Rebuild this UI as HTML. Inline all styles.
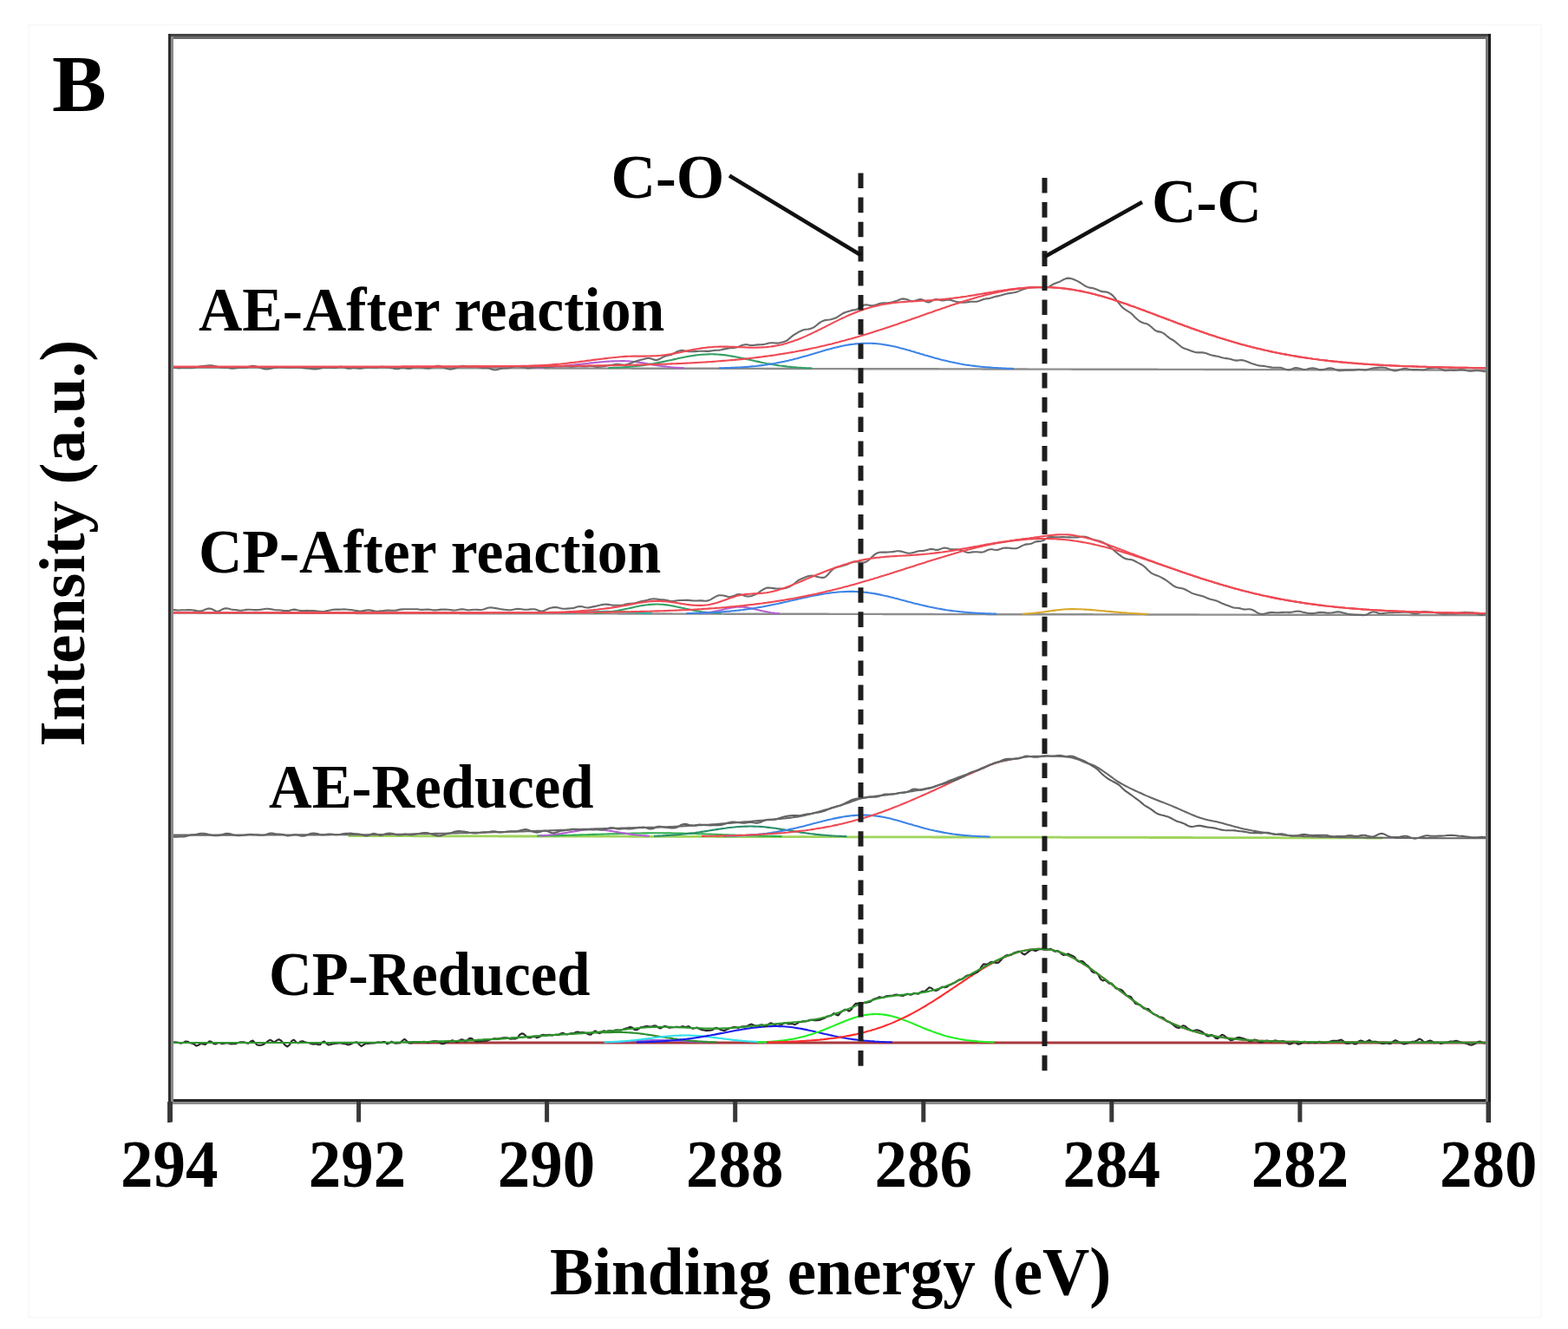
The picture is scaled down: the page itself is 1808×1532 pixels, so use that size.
<!DOCTYPE html>
<html><head><meta charset="utf-8"><title>XPS C1s spectra</title>
<style>html,body{margin:0;padding:0;background:#fff;} svg{display:block;}</style>
</head><body>
<svg width="1808" height="1532" viewBox="0 0 1808 1532">
<rect x="0" y="0" width="1808" height="1532" fill="#ffffff"/>
<rect x="33" y="28.5" width="1744" height="1490" fill="none" stroke="#f9f9f9" stroke-width="2"/>
<g fill="none" stroke-linejoin="round">
<polyline points="199,423.6 201.5,423.6 204,423.6 206.5,423.6 209,423.6 211.5,423.6 214,423.6 216.5,423.6 219,423.6 221.5,423.6 224,423.7 226.5,423.7 229,423.7 231.5,423.7 234,423.7 236.5,423.7 239,423.7 241.5,423.7 244,423.7 246.5,423.7 249,423.7 251.5,423.7 254,423.7 256.5,423.7 259,423.7 261.5,423.7 264,423.7 266.5,423.7 269,423.7 271.5,423.7 274,423.8 276.5,423.8 279,423.8 281.5,423.8 284,423.8 286.5,423.8 289,423.8 291.5,423.8 294,423.8 296.5,423.8 299,423.8 301.5,423.8 304,423.8 306.5,423.8 309,423.8 311.5,423.8 314,423.8 316.5,423.8 319,423.8 321.5,423.8 324,423.9 326.5,423.9 329,423.9 331.5,423.9 334,423.9 336.5,423.9 339,423.9 341.5,423.9 344,423.9 346.5,423.9 349,423.9 351.5,423.9 354,423.9 356.5,423.9 359,423.9 361.5,423.9 364,423.9 366.5,423.9 369,423.9 371.5,423.9 374,423.9 376.5,424 379,424 381.5,424 384,424 386.5,424 389,424 391.5,424 394,424 396.5,424 399,424 401.5,424 404,424 406.5,424 409,424 411.5,424 414,424 416.5,424 419,424 421.5,424 424,424 426.5,424.1 429,424.1 431.5,424.1 434,424.1 436.5,424.1 439,424.1 441.5,424.1 444,424.1 446.5,424.1 449,424.1 451.5,424.1 454,424.1 456.5,424.1 459,424.1 461.5,424.1 464,424.1 466.5,424.1 469,424.1 471.5,424.1 474,424.1 476.5,424.2 479,424.2 481.5,424.2 484,424.2 486.5,424.2 489,424.2 491.5,424.2 494,424.2 496.5,424.2 499,424.2 501.5,424.2 504,424.2 506.5,424.2 509,424.2 511.5,424.2 514,424.2 516.5,424.2 519,424.2 521.5,424.2 524,424.2 526.5,424.3 529,424.3 531.5,424.3 534,424.3 536.5,424.3 539,424.3 541.5,424.3 544,424.3 546.5,424.3 549,424.3 551.5,424.3 554,424.3 556.5,424.3 559,424.3 561.5,424.3 564,424.3 566.5,424.3 569,424.3 571.5,424.3 574,424.3 576.5,424.3 579,424.4 581.5,424.4 584,424.4 586.5,424.4 589,424.4 591.5,424.4 594,424.4 596.5,424.4 599,424.4 601.5,424.4 604,424.4 606.5,424.4 609,424.4 611.5,424.4 614,424.4 616.5,424.4 619,424.4 621.5,424.4 624,424.4 626.5,424.4 629,424.5 631.5,424.5 634,424.5 636.5,424.5 639,424.5 641.5,424.5 644,424.5 646.5,424.5 649,424.5 651.5,424.5 654,424.5 656.5,424.5 659,424.5 661.5,424.5 664,424.5 666.5,424.5 669,424.5 671.5,424.5 674,424.5 676.5,424.5 679,424.6 681.5,424.6 684,424.6 686.5,424.6 689,424.6 691.5,424.6 694,424.6 696.5,424.6 699,424.6 701.5,424.6 704,424.6 706.5,424.6 709,424.6 711.5,424.6 714,424.6 716.5,424.6 719,424.6 721.5,424.6 724,424.6 726.5,424.6 729,424.7 731.5,424.7 734,424.7 736.5,424.7 739,424.7 741.5,424.7 744,424.7 746.5,424.7 749,424.7 751.5,424.7 754,424.7 756.5,424.7 759,424.7 761.5,424.7 764,424.7 766.5,424.7 769,424.7 771.5,424.7 774,424.7 776.5,424.7 779,424.7 781.5,424.8 784,424.8 786.5,424.8 789,424.8 791.5,424.8 794,424.8 796.5,424.8 799,424.8 801.5,424.8 804,424.8 806.5,424.8 809,424.8 811.5,424.8 814,424.8 816.5,424.8 819,424.8 821.5,424.8 824,424.8 826.5,424.8 829,424.8 831.5,424.9 834,424.9 836.5,424.9 839,424.9 841.5,424.9 844,424.9 846.5,424.9 849,424.9 851.5,424.9 854,424.9 856.5,424.9 859,424.9 861.5,424.9 864,424.9 866.5,424.9 869,424.9 871.5,424.9 874,424.9 876.5,424.9 879,424.9 881.5,425 884,425 886.5,425 889,425 891.5,425 894,425 896.5,425 899,425 901.5,425 904,425 906.5,425 909,425 911.5,425 914,425 916.5,425 919,425 921.5,425 924,425 926.5,425 929,425 931.5,425.1 934,425.1 936.5,425.1 939,425.1 941.5,425.1 944,425.1 946.5,425.1 949,425.1 951.5,425.1 954,425.1 956.5,425.1 959,425.1 961.5,425.1 964,425.1 966.5,425.1 969,425.1 971.5,425.1 974,425.1 976.5,425.1 979,425.1 981.5,425.1 984,425.2 986.5,425.2 989,425.2 991.5,425.2 994,425.2 996.5,425.2 999,425.2 1001.5,425.2 1004,425.2 1006.5,425.2 1009,425.2 1011.5,425.2 1014,425.2 1016.5,425.2 1019,425.2 1021.5,425.2 1024,425.2 1026.5,425.2 1029,425.2 1031.5,425.2 1034,425.3 1036.5,425.3 1039,425.3 1041.5,425.3 1044,425.3 1046.5,425.3 1049,425.3 1051.5,425.3 1054,425.3 1056.5,425.3 1059,425.3 1061.5,425.3 1064,425.3 1066.5,425.3 1069,425.3 1071.5,425.3 1074,425.3 1076.5,425.3 1079,425.3 1081.5,425.3 1084,425.4 1086.5,425.4 1089,425.4 1091.5,425.4 1094,425.4 1096.5,425.4 1099,425.4 1101.5,425.4 1104,425.4 1106.5,425.4 1109,425.4 1111.5,425.4 1114,425.4 1116.5,425.4 1119,425.4 1121.5,425.4 1124,425.4 1126.5,425.4 1129,425.4 1131.5,425.4 1134,425.5 1136.5,425.5 1139,425.5 1141.5,425.5 1144,425.5 1146.5,425.5 1149,425.5 1151.5,425.5 1154,425.5 1156.5,425.5 1159,425.5 1161.5,425.5 1164,425.5 1166.5,425.5 1169,425.5 1171.5,425.5 1174,425.5 1176.5,425.5 1179,425.5 1181.5,425.5 1184,425.5 1186.5,425.6 1189,425.6 1191.5,425.6 1194,425.6 1196.5,425.6 1199,425.6 1201.5,425.6 1204,425.6 1206.5,425.6 1209,425.6 1211.5,425.6 1214,425.6 1216.5,425.6 1219,425.6 1221.5,425.6 1224,425.6 1226.5,425.6 1229,425.6 1231.5,425.6 1234,425.6 1236.5,425.7 1239,425.7 1241.5,425.7 1244,425.7 1246.5,425.7 1249,425.7 1251.5,425.7 1254,425.7 1256.5,425.7 1259,425.7 1261.5,425.7 1264,425.7 1266.5,425.7 1269,425.7 1271.5,425.7 1274,425.7 1276.5,425.7 1279,425.7 1281.5,425.7 1284,425.7 1286.5,425.8 1289,425.8 1291.5,425.8 1294,425.8 1296.5,425.8 1299,425.8 1301.5,425.8 1304,425.8 1306.5,425.8 1309,425.8 1311.5,425.8 1314,425.8 1316.5,425.8 1319,425.8 1321.5,425.8 1324,425.8 1326.5,425.8 1329,425.8 1331.5,425.8 1334,425.8 1336.5,425.9 1339,425.9 1341.5,425.9 1344,425.9 1346.5,425.9 1349,425.9 1351.5,425.9 1354,425.9 1356.5,425.9 1359,425.9 1361.5,425.9 1364,425.9 1366.5,425.9 1369,425.9 1371.5,425.9 1374,425.9 1376.5,425.9 1379,425.9 1381.5,425.9 1384,425.9 1386.5,425.9 1389,426 1391.5,426 1394,426 1396.5,426 1399,426 1401.5,426 1404,426 1406.5,426 1409,426 1411.5,426 1414,426 1416.5,426 1419,426 1421.5,426 1424,426 1426.5,426 1429,426 1431.5,426 1434,426 1436.5,426 1439,426.1 1441.5,426.1 1444,426.1 1446.5,426.1 1449,426.1 1451.5,426.1 1454,426.1 1456.5,426.1 1459,426.1 1461.5,426.1 1464,426.1 1466.5,426.1 1469,426.1 1471.5,426.1 1474,426.1 1476.5,426.1 1479,426.1 1481.5,426.1 1484,426.1 1486.5,426.1 1489,426.2 1491.5,426.2 1494,426.2 1496.5,426.2 1499,426.2 1501.5,426.2 1504,426.2 1506.5,426.2 1509,426.2 1511.5,426.2 1514,426.2 1516.5,426.2 1519,426.2 1521.5,426.2 1524,426.2 1526.5,426.2 1529,426.2 1531.5,426.2 1534,426.2 1536.5,426.2 1539,426.3 1541.5,426.3 1544,426.3 1546.5,426.3 1549,426.3 1551.5,426.3 1554,426.3 1556.5,426.3 1559,426.3 1561.5,426.3 1564,426.3 1566.5,426.3 1569,426.3 1571.5,426.3 1574,426.3 1576.5,426.3 1579,426.3 1581.5,426.3 1584,426.3 1586.5,426.3 1589,426.3 1591.5,426.4 1594,426.4 1596.5,426.4 1599,426.4 1601.5,426.4 1604,426.4 1606.5,426.4 1609,426.4 1611.5,426.4 1614,426.4 1616.5,426.4 1619,426.4 1621.5,426.4 1624,426.4 1626.5,426.4 1629,426.4 1631.5,426.4 1634,426.4 1636.5,426.4 1639,426.4 1641.5,426.5 1644,426.5 1646.5,426.5 1649,426.5 1651.5,426.5 1654,426.5 1656.5,426.5 1659,426.5 1661.5,426.5 1664,426.5 1666.5,426.5 1669,426.5 1671.5,426.5 1674,426.5 1676.5,426.5 1679,426.5 1681.5,426.5 1684,426.5 1686.5,426.5 1689,426.5 1691.5,426.6 1694,426.6 1696.5,426.6 1699,426.6 1701.5,426.6 1704,426.6 1706.5,426.6 1709,426.6 1711.5,426.6 1714,426.6" stroke="#8e8e8e" stroke-width="2.4"/>
<polyline points="611.5,423.9 614,423.8 616.5,423.8 619,423.7 621.5,423.6 624,423.5 626.5,423.4 629,423.3 631.5,423.1 634,423 636.5,422.8 639,422.7 641.5,422.5 644,422.3 646.5,422.1 649,421.9 651.5,421.6 654,421.4 656.5,421.2 659,420.9 661.5,420.7 664,420.4 666.5,420.1 669,419.8 671.5,419.6 674,419.3 676.5,419 679,418.7 681.5,418.4 684,418.2 686.5,417.9 689,417.7 691.5,417.4 694,417.2 696.5,417 699,416.8 701.5,416.6 704,416.5 706.5,416.4 709,416.3 711.5,416.2 714,416.2 716.5,416.1 719,416.1 721.5,416.2 724,416.3 726.5,416.5 729,416.7 731.5,417 734,417.3 736.5,417.6 739,418 741.5,418.4 744,418.8 746.5,419.3 749,419.7 751.5,420.1 754,420.6 756.5,421 759,421.4 761.5,421.7 764,422.1 766.5,422.4 769,422.7 771.5,423 774,423.3 776.5,423.5 779,423.7 781.5,423.8 784,424 786.5,424.1 789,424.3" stroke="#b45fd2" stroke-width="2.1"/>
<polyline points="701.5,424.1 704,424 706.5,423.9 709,423.8 711.5,423.7 714,423.6 716.5,423.5 719,423.3 721.5,423.1 724,422.9 726.5,422.7 729,422.5 731.5,422.3 734,422 736.5,421.7 739,421.4 741.5,421.1 744,420.7 746.5,420.3 749,419.9 751.5,419.5 754,419.1 756.5,418.6 759,418.1 761.5,417.6 764,417.1 766.5,416.6 769,416 771.5,415.5 774,415 776.5,414.4 779,413.9 781.5,413.3 784,412.8 786.5,412.3 789,411.8 791.5,411.3 794,410.8 796.5,410.4 799,410 801.5,409.6 804,409.3 806.5,409 809,408.8 811.5,408.6 814,408.5 816.5,408.4 819,408.3 821.5,408.3 824,408.4 826.5,408.5 829,408.7 831.5,408.9 834,409.1 836.5,409.4 839,409.8 841.5,410.2 844,410.6 846.5,411 849,411.5 851.5,412 854,412.5 856.5,413 859,413.6 861.5,414.1 864,414.7 866.5,415.2 869,415.8 871.5,416.4 874,416.9 876.5,417.4 879,418 881.5,418.5 884,419 886.5,419.4 889,419.9 891.5,420.3 894,420.7 896.5,421.1 899,421.5 901.5,421.8 904,422.1 906.5,422.4 909,422.7 911.5,422.9 914,423.2 916.5,423.4 919,423.6 921.5,423.7 924,423.9 926.5,424 929,424.2 931.5,424.3 934,424.4 936.5,424.5" stroke="#34a065" stroke-width="2.1"/>
<polyline points="829,424.3 831.5,424.3 834,424.2 836.5,424.1 839,424.1 841.5,424 844,423.9 846.5,423.8 849,423.6 851.5,423.5 854,423.4 856.5,423.2 859,423 861.5,422.9 864,422.7 866.5,422.4 869,422.2 871.5,422 874,421.7 876.5,421.4 879,421.1 881.5,420.8 884,420.4 886.5,420 889,419.6 891.5,419.2 894,418.8 896.5,418.3 899,417.8 901.5,417.3 904,416.8 906.5,416.2 909,415.7 911.5,415.1 914,414.5 916.5,413.8 919,413.2 921.5,412.5 924,411.8 926.5,411.1 929,410.4 931.5,409.7 934,408.9 936.5,408.2 939,407.5 941.5,406.7 944,406 946.5,405.3 949,404.5 951.5,403.8 954,403.1 956.5,402.4 959,401.7 961.5,401.1 964,400.5 966.5,399.9 969,399.3 971.5,398.8 974,398.3 976.5,397.8 979,397.4 981.5,397 984,396.7 986.5,396.4 989,396.2 991.5,396 994,395.8 996.5,395.7 999,395.7 1001.5,395.7 1004,395.8 1006.5,395.9 1009,396 1011.5,396.2 1014,396.5 1016.5,396.8 1019,397.2 1021.5,397.6 1024,398 1026.5,398.5 1029,399 1031.5,399.5 1034,400.1 1036.5,400.7 1039,401.4 1041.5,402 1044,402.7 1046.5,403.4 1049,404.1 1051.5,404.9 1054,405.6 1056.5,406.4 1059,407.1 1061.5,407.9 1064,408.6 1066.5,409.4 1069,410.1 1071.5,410.8 1074,411.5 1076.5,412.3 1079,412.9 1081.5,413.6 1084,414.3 1086.5,414.9 1089,415.5 1091.5,416.1 1094,416.7 1096.5,417.3 1099,417.8 1101.5,418.3 1104,418.8 1106.5,419.3 1109,419.7 1111.5,420.2 1114,420.6 1116.5,420.9 1119,421.3 1121.5,421.6 1124,421.9 1126.5,422.2 1129,422.5 1131.5,422.8 1134,423 1136.5,423.2 1139,423.4 1141.5,423.6 1144,423.8 1146.5,424 1149,424.1 1151.5,424.3 1154,424.4 1156.5,424.5 1159,424.6 1161.5,424.7 1164,424.8 1166.5,424.9 1169,425" stroke="#3d84e6" stroke-width="2.1"/>
<polyline points="199,423.9 201.5,423.9 204,424.2 206.5,424.4 209,424.3 211.5,424.2 214,424.2 216.5,424.3 219,424.3 221.5,424.3 224,423.9 226.5,423.3 229,422.8 231.5,422.4 234,422 236.5,421.7 239,421.5 241.5,421.3 244,421.3 246.5,421.7 249,422.3 251.5,422.9 254,423.5 256.5,423.8 259,423.9 261.5,424 264,424.3 266.5,424.6 269,424.7 271.5,424.4 274,424.1 276.5,423.9 279,424 281.5,424 284,423.7 286.5,422.9 289,422.1 291.5,421.8 294,422.1 296.5,422.8 299,423.7 301.5,424.5 304,425.1 306.5,425.4 309,425.4 311.5,424.9 314,424.4 316.5,424 319,423.6 321.5,423.3 324,423.2 326.5,423.4 329,423.6 331.5,423.9 334,423.9 336.5,423.7 339,423.6 341.5,423.7 344,423.8 346.5,424 349,424.2 351.5,424.5 354,424.6 356.5,424.8 359,425.2 361.5,425.4 364,425.4 366.5,425.2 369,424.8 371.5,424.3 374,423.9 376.5,423.8 379,423.6 381.5,423.6 384,423.9 386.5,423.9 389,423.5 391.5,422.9 394,422.7 396.5,423.2 399,424.2 401.5,424.8 404,424.7 406.5,424.2 409,424.1 411.5,424.4 414,424.8 416.5,424.7 419,424.2 421.5,423.6 424,423.4 426.5,423.3 429,423.4 431.5,423.6 434,423.6 436.5,423.3 439,422.9 441.5,422.9 444,423.1 446.5,423.3 449,423.6 451.5,424.1 454,424.7 456.5,425.3 459,425.3 461.5,424.5 464,424 466.5,424.2 469,424.6 471.5,424.9 474,424.6 476.5,423.8 479,423.1 481.5,422.9 484,423.1 486.5,423.5 489,424.1 491.5,424.5 494,424.6 496.5,424.2 499,423.3 501.5,422.4 504,421.8 506.5,421.9 509,422.6 511.5,423.6 514,424.5 516.5,425.2 519,425.6 521.5,425.5 524,424.8 526.5,423.8 529,422.8 531.5,422.1 534,421.8 536.5,422 539,422.4 541.5,422.6 544,422.6 546.5,422.3 549,422.3 551.5,422.9 554,423.7 556.5,424.1 559,424.1 561.5,424.1 564,424.5 566.5,425.4 569,426.3 571.5,426.5 574,425.9 576.5,425.1 579,424.6 581.5,424.4 584,424.5 586.5,424.3 589,423.7 591.5,422.9 594,422.4 596.5,422.2 599,422.4 601.5,422.9 604,423.5 606.5,424.1 609,424.4 611.5,424.3 614,423.9 616.5,423.4 619,423 621.5,422.9 624,423.1 626.5,423.3 629,423.4 631.5,423.3 634,423 636.5,422.7 639,422.4 641.5,422.3 644,422.3 646.5,422.4 649,422.2 651.5,422 654,422.1 656.5,422.4 659,422.6 661.5,422.5 664,422.1 666.5,421.8 669,421.8 671.5,422.1 674,422.2 676.5,422.1 679,421.9 681.5,421.9 684,422.2 686.5,422.6 689,422.9 691.5,422.8 694,422.5 696.5,422.1 699,421.7 701.5,421.3 704,420.9 706.5,420.5 709,420 711.5,419.7 714,420 716.5,420.4 719,420.7 721.5,420.6 724,419.8 726.5,418.9 729,418 731.5,417.1 734,416.2 736.5,415.4 739,414.8 741.5,414.2 744,413.5 746.5,413 749,413 751.5,413.7 754,414.6 756.5,415.1 759,414.6 761.5,413.3 764,411.8 766.5,410.8 769,410 771.5,409.5 774,408.9 776.5,407.7 779,406.3 781.5,405 784,404.2 786.5,403.9 789,404.2 791.5,404.8 794,405.2 796.5,405.3 799,405.2 801.5,405.1 804,405 806.5,404.8 809,404.7 811.5,404.8 814,404.9 816.5,404.9 819,404.6 821.5,404.3 824,404 826.5,403.8 829,403.7 831.5,403.2 834,402.6 836.5,402.1 839,401.6 841.5,401.3 844,401.1 846.5,400.9 849,400.5 851.5,399.8 854,398.8 856.5,397.8 859,397.3 861.5,397.3 864,397.7 866.5,398 869,398 871.5,397.6 874,397.4 876.5,397.2 879,397.1 881.5,396.8 884,396.2 886.5,395.5 889,395.3 891.5,395.3 894,395.5 896.5,395.6 899,395.2 901.5,394.6 904,393.9 906.5,393.1 909,391.3 911.5,389.1 914,387 916.5,385.4 919,383.8 921.5,382.4 924,381.2 926.5,380.2 929,379.7 931.5,379.5 934,379.1 936.5,378.3 939,376.9 941.5,375 944,372.9 946.5,371.1 949,369.9 951.5,369.1 954,368.8 956.5,368.5 959,368 961.5,367.3 964,366.3 966.5,364.8 969,363.2 971.5,361.5 974,360.2 976.5,359.4 979,358.7 981.5,357.9 984,357.4 986.5,357.1 989,356.2 991.5,354.7 994,352.9 996.5,351.5 999,351.2 1001.5,351.7 1004,352.2 1006.5,352.2 1009,351.8 1011.5,350.9 1014,350 1016.5,349.5 1019,349.2 1021.5,349.2 1024,349 1026.5,348.7 1029,348.2 1031.5,347.5 1034,346.7 1036.5,345.7 1039,344.7 1041.5,344.4 1044,344.7 1046.5,345.5 1049,346.4 1051.5,347.1 1054,347 1056.5,346.2 1059,345.4 1061.5,345.1 1064,345.6 1066.5,347 1069,348.3 1071.5,348.4 1074,347.2 1076.5,345.8 1079,345 1081.5,345.3 1084,346 1086.5,346.5 1089,346.2 1091.5,345.7 1094,345.6 1096.5,345.9 1099,346.7 1101.5,347.4 1104,348 1106.5,348.3 1109,348.6 1111.5,348.7 1114,348.5 1116.5,348.1 1119,347.8 1121.5,347.7 1124,347.7 1126.5,347.6 1129,347 1131.5,345.9 1134,345 1136.5,344.4 1139,344.1 1141.5,343.7 1144,343 1146.5,342.2 1149,341.6 1151.5,341.1 1154,340.5 1156.5,339.8 1159,339 1161.5,338.4 1164,338 1166.5,337.6 1169,337.2 1171.5,336.7 1174,335.9 1176.5,334.9 1179,333.8 1181.5,333 1184,332.3 1186.5,331.7 1189,331.4 1191.5,331.3 1194,331.3 1196.5,331.3 1199,331.3 1201.5,331.5 1204,331.7 1206.5,331.6 1209,330.8 1211.5,329.4 1214,327.8 1216.5,326.7 1219,325.8 1221.5,324.9 1224,323.6 1226.5,322.2 1229,321.1 1231.5,320.6 1234,320.9 1236.5,321.6 1239,322.5 1241.5,323.6 1244,324.9 1246.5,326.5 1249,328.2 1251.5,329.8 1254,330.9 1256.5,331.6 1259,331.9 1261.5,332.5 1264,333.4 1266.5,334.5 1269,335.6 1271.5,336.1 1274,336.4 1276.5,336.8 1279,337.8 1281.5,339.4 1284,341.6 1286.5,344.7 1289,348.1 1291.5,351.2 1294,354.1 1296.5,356.2 1299,357.8 1301.5,359.3 1304,361 1306.5,363.3 1309,365.9 1311.5,368.3 1314,370.3 1316.5,371.6 1319,372.4 1321.5,373 1324,374.1 1326.5,376 1329,378.3 1331.5,380.5 1334,381.9 1336.5,382.4 1339,382.9 1341.5,384.1 1344,386 1346.5,388.2 1349,390.1 1351.5,391.5 1354,393 1356.5,395.1 1359,397.2 1361.5,399.3 1364,401 1366.5,402 1369,402.8 1371.5,403.8 1374,404.7 1376.5,405.6 1379,406.3 1381.5,406.4 1384,406.3 1386.5,406.4 1389,406.8 1391.5,407.5 1394,408.5 1396.5,409.3 1399,409.9 1401.5,410.4 1404,410.8 1406.5,411.4 1409,412.2 1411.5,412.8 1414,413.1 1416.5,413.5 1419,414 1421.5,414.7 1424,415.4 1426.5,415.6 1429,415.3 1431.5,415.1 1434,415.5 1436.5,416.2 1439,417.2 1441.5,418.3 1444,419.2 1446.5,420 1449,420.8 1451.5,421.4 1454,421.7 1456.5,421.9 1459,422.3 1461.5,422.7 1464,423.1 1466.5,423.6 1469,423.8 1471.5,423.8 1474,423.7 1476.5,423.8 1479,424.4 1481.5,425.4 1484,426.3 1486.5,426.4 1489,425.6 1491.5,424.6 1494,424 1496.5,424.2 1499,424.9 1501.5,425.6 1504,426 1506.5,425.8 1509,425.1 1511.5,424.5 1514,424.4 1516.5,424.7 1519,425.5 1521.5,426.3 1524,426.3 1526.5,425.9 1529,425.2 1531.5,424.6 1534,424.3 1536.5,424.8 1539,425.6 1541.5,426.6 1544,427.2 1546.5,427.3 1549,427 1551.5,426.6 1554,426.5 1556.5,426.6 1559,426.6 1561.5,426.4 1564,426.1 1566.5,425.9 1569,426 1571.5,426.3 1574,426.5 1576.5,426.1 1579,425.4 1581.5,424.7 1584,424.3 1586.5,424 1589,423.8 1591.5,423.6 1594,423.5 1596.5,423.8 1599,424.5 1601.5,425.4 1604,426.3 1606.5,427.1 1609,427.4 1611.5,427 1614,426.1 1616.5,425.4 1619,425 1621.5,425 1624,425.6 1626.5,426 1629,426.1 1631.5,426 1634,426.1 1636.5,426.3 1639,426.5 1641.5,426.3 1644,425.7 1646.5,424.9 1649,424.5 1651.5,424.1 1654,423.6 1656.5,423.5 1659,424.2 1661.5,425.4 1664,426.6 1666.5,427.2 1669,427 1671.5,426.7 1674,426.8 1676.5,426.9 1679,426.8 1681.5,426.5 1684,426.1 1686.5,426.2 1689,426.7 1691.5,427.3 1694,427.7 1696.5,427.7 1699,427.5 1701.5,427.2 1704,427.3 1706.5,427.4 1709,427.7 1711.5,428.1 1714,428.2" stroke="#6a6a6a" stroke-width="2.1"/>
<polyline points="199,422.8 201.5,422.8 204,422.8 206.5,422.8 209,422.8 211.5,422.8 214,422.8 216.5,422.8 219,422.8 221.5,422.8 224,422.8 226.5,422.8 229,422.8 231.5,422.8 234,422.8 236.5,422.8 239,422.8 241.5,422.8 244,422.8 246.5,422.8 249,422.8 251.5,422.8 254,422.8 256.5,422.8 259,422.8 261.5,422.8 264,422.8 266.5,422.8 269,422.8 271.5,422.8 274,422.8 276.5,422.8 279,422.8 281.5,422.8 284,422.8 286.5,422.8 289,422.8 291.5,422.8 294,422.8 296.5,422.8 299,422.8 301.5,422.8 304,422.8 306.5,422.8 309,422.8 311.5,422.8 314,422.8 316.5,422.8 319,422.8 321.5,422.8 324,422.8 326.5,422.8 329,422.8 331.5,422.8 334,422.8 336.5,422.8 339,422.8 341.5,422.8 344,422.8 346.5,422.8 349,422.8 351.5,422.8 354,422.8 356.5,422.8 359,422.8 361.5,422.8 364,422.8 366.5,422.8 369,422.8 371.5,422.8 374,422.8 376.5,422.8 379,422.8 381.5,422.8 384,422.8 386.5,422.7 389,422.7 391.5,422.7 394,422.7 396.5,422.7 399,422.7 401.5,422.7 404,422.7 406.5,422.7 409,422.7 411.5,422.7 414,422.7 416.5,422.7 419,422.7 421.5,422.7 424,422.7 426.5,422.7 429,422.7 431.5,422.7 434,422.7 436.5,422.7 439,422.7 441.5,422.7 444,422.7 446.5,422.7 449,422.7 451.5,422.7 454,422.7 456.5,422.7 459,422.7 461.5,422.7 464,422.6 466.5,422.6 469,422.6 471.5,422.6 474,422.6 476.5,422.6 479,422.6 481.5,422.6 484,422.6 486.5,422.6 489,422.6 491.5,422.6 494,422.6 496.5,422.6 499,422.6 501.5,422.6 504,422.6 506.5,422.6 509,422.5 511.5,422.5 514,422.5 516.5,422.5 519,422.5 521.5,422.5 524,422.5 526.5,422.5 529,422.5 531.5,422.5 534,422.5 536.5,422.5 539,422.5 541.5,422.5 544,422.4 546.5,422.4 549,422.4 551.5,422.4 554,422.4 556.5,422.4 559,422.4 561.5,422.4 564,422.4 566.5,422.4 569,422.4 571.5,422.3 574,422.3 576.5,422.3 579,422.3 581.5,422.3 584,422.3 586.5,422.3 589,422.3 591.5,422.2 594,422.2 596.5,422.2 599,422.2 601.5,422.2 604,422.2 606.5,422.2 609,422.2 611.5,422.1 614,422.1 616.5,422.1 619,422.1 621.5,422.1 624,422.1 626.5,422 629,422 631.5,422 634,422 636.5,422 639,421.9 641.5,421.9 644,421.9 646.5,421.9 649,421.9 651.5,421.8 654,421.8 656.5,421.8 659,421.8 661.5,421.8 664,421.7 666.5,421.7 669,421.7 671.5,421.6 674,421.6 676.5,421.6 679,421.6 681.5,421.5 684,421.5 686.5,421.5 689,421.4 691.5,421.4 694,421.4 696.5,421.3 699,421.3 701.5,421.2 704,421.2 706.5,421.2 709,421.1 711.5,421.1 714,421 716.5,421 719,420.9 721.5,420.9 724,420.8 726.5,420.8 729,420.7 731.5,420.7 734,420.6 736.5,420.6 739,420.5 741.5,420.4 744,420.4 746.5,420.3 749,420.2 751.5,420.2 754,420.1 756.5,420 759,419.9 761.5,419.8 764,419.8 766.5,419.7 769,419.6 771.5,419.5 774,419.4 776.5,419.3 779,419.2 781.5,419.1 784,419 786.5,418.9 789,418.7 791.5,418.6 794,418.5 796.5,418.4 799,418.2 801.5,418.1 804,418 806.5,417.8 809,417.7 811.5,417.5 814,417.4 816.5,417.2 819,417 821.5,416.9 824,416.7 826.5,416.5 829,416.3 831.5,416.1 834,415.9 836.5,415.7 839,415.5 841.5,415.3 844,415.1 846.5,414.9 849,414.6 851.5,414.4 854,414.1 856.5,413.9 859,413.6 861.5,413.3 864,413.1 866.5,412.8 869,412.5 871.5,412.2 874,411.9 876.5,411.6 879,411.3 881.5,410.9 884,410.6 886.5,410.3 889,409.9 891.5,409.6 894,409.2 896.5,408.8 899,408.4 901.5,408 904,407.6 906.5,407.2 909,406.8 911.5,406.4 914,405.9 916.5,405.5 919,405 921.5,404.5 924,404.1 926.5,403.6 929,403.1 931.5,402.6 934,402.1 936.5,401.5 939,401 941.5,400.5 944,399.9 946.5,399.3 949,398.8 951.5,398.2 954,397.6 956.5,397 959,396.4 961.5,395.7 964,395.1 966.5,394.5 969,393.8 971.5,393.1 974,392.5 976.5,391.8 979,391.1 981.5,390.4 984,389.7 986.5,389 989,388.3 991.5,387.5 994,386.8 996.5,386 999,385.3 1001.5,384.5 1004,383.7 1006.5,382.9 1009,382.1 1011.5,381.3 1014,380.5 1016.5,379.7 1019,378.9 1021.5,378.1 1024,377.2 1026.5,376.4 1029,375.6 1031.5,374.7 1034,373.9 1036.5,373 1039,372.1 1041.5,371.3 1044,370.4 1046.5,369.5 1049,368.7 1051.5,367.8 1054,366.9 1056.5,366 1059,365.2 1061.5,364.3 1064,363.4 1066.5,362.5 1069,361.6 1071.5,360.7 1074,359.9 1076.5,359 1079,358.1 1081.5,357.3 1084,356.4 1086.5,355.5 1089,354.7 1091.5,353.8 1094,353 1096.5,352.1 1099,351.3 1101.5,350.5 1104,349.7 1106.5,348.9 1109,348.1 1111.5,347.3 1114,346.5 1116.5,345.8 1119,345 1121.5,344.3 1124,343.5 1126.5,342.8 1129,342.1 1131.5,341.5 1134,340.8 1136.5,340.1 1139,339.5 1141.5,338.9 1144,338.3 1146.5,337.7 1149,337.2 1151.5,336.7 1154,336.1 1156.5,335.7 1159,335.2 1161.5,334.7 1164,334.3 1166.5,333.9 1169,333.6 1171.5,333.2 1174,332.9 1176.5,332.6 1179,332.3 1181.5,332.1 1184,331.9 1186.5,331.7 1189,331.5 1191.5,331.4 1194,331.3 1196.5,331.2 1199,331.1 1201.5,331.1 1204,331.1 1206.5,331.1 1209,331.2 1211.5,331.3 1214,331.4 1216.5,331.6 1219,331.7 1221.5,332 1224,332.2 1226.5,332.5 1229,332.8 1231.5,333.1 1234,333.5 1236.5,333.8 1239,334.2 1241.5,334.7 1244,335.1 1246.5,335.6 1249,336.2 1251.5,336.7 1254,337.3 1256.5,337.8 1259,338.4 1261.5,339.1 1264,339.7 1266.5,340.4 1269,341.1 1271.5,341.8 1274,342.5 1276.5,343.2 1279,344 1281.5,344.8 1284,345.6 1286.5,346.4 1289,347.2 1291.5,348 1294,348.9 1296.5,349.7 1299,350.6 1301.5,351.5 1304,352.4 1306.5,353.2 1309,354.1 1311.5,355.1 1314,356 1316.5,356.9 1319,357.8 1321.5,358.8 1324,359.7 1326.5,360.6 1329,361.6 1331.5,362.5 1334,363.5 1336.5,364.4 1339,365.4 1341.5,366.3 1344,367.2 1346.5,368.2 1349,369.1 1351.5,370.1 1354,371 1356.5,372 1359,372.9 1361.5,373.8 1364,374.7 1366.5,375.7 1369,376.6 1371.5,377.5 1374,378.4 1376.5,379.3 1379,380.2 1381.5,381.1 1384,381.9 1386.5,382.8 1389,383.7 1391.5,384.5 1394,385.4 1396.5,386.2 1399,387 1401.5,387.8 1404,388.7 1406.5,389.5 1409,390.2 1411.5,391 1414,391.8 1416.5,392.5 1419,393.3 1421.5,394 1424,394.8 1426.5,395.5 1429,396.2 1431.5,396.9 1434,397.6 1436.5,398.2 1439,398.9 1441.5,399.5 1444,400.2 1446.5,400.8 1449,401.4 1451.5,402 1454,402.6 1456.5,403.2 1459,403.8 1461.5,404.3 1464,404.9 1466.5,405.4 1469,406 1471.5,406.5 1474,407 1476.5,407.5 1479,408 1481.5,408.4 1484,408.9 1486.5,409.3 1489,409.8 1491.5,410.2 1494,410.6 1496.5,411.1 1499,411.5 1501.5,411.9 1504,412.2 1506.5,412.6 1509,413 1511.5,413.3 1514,413.7 1516.5,414 1519,414.3 1521.5,414.7 1524,415 1526.5,415.3 1529,415.6 1531.5,415.9 1534,416.1 1536.5,416.4 1539,416.7 1541.5,416.9 1544,417.2 1546.5,417.4 1549,417.7 1551.5,417.9 1554,418.1 1556.5,418.3 1559,418.5 1561.5,418.7 1564,418.9 1566.5,419.1 1569,419.3 1571.5,419.5 1574,419.7 1576.5,419.8 1579,420 1581.5,420.2 1584,420.3 1586.5,420.5 1589,420.6 1591.5,420.8 1594,420.9 1596.5,421 1599,421.2 1601.5,421.3 1604,421.4 1606.5,421.5 1609,421.6 1611.5,421.7 1614,421.9 1616.5,422 1619,422.1 1621.5,422.2 1624,422.2 1626.5,422.3 1629,422.4 1631.5,422.5 1634,422.6 1636.5,422.7 1639,422.7 1641.5,422.8 1644,422.9 1646.5,423 1649,423 1651.5,423.1 1654,423.2 1656.5,423.2 1659,423.3 1661.5,423.3 1664,423.4 1666.5,423.5 1669,423.5 1671.5,423.6 1674,423.6 1676.5,423.7 1679,423.7 1681.5,423.8 1684,423.8 1686.5,423.9 1689,423.9 1691.5,423.9 1694,424 1696.5,424 1699,424.1 1701.5,424.1 1704,424.1 1706.5,424.2 1709,424.2 1711.5,424.2 1714,424.3" stroke="#ef4a54" stroke-width="2.1"/>
<polyline points="199,422.8 201.5,422.8 204,422.8 206.5,422.8 209,422.8 211.5,422.8 214,422.8 216.5,422.8 219,422.8 221.5,422.8 224,422.8 226.5,422.8 229,422.8 231.5,422.8 234,422.8 236.5,422.8 239,422.8 241.5,422.8 244,422.8 246.5,422.8 249,422.8 251.5,422.8 254,422.8 256.5,422.8 259,422.8 261.5,422.8 264,422.8 266.5,422.8 269,422.8 271.5,422.8 274,422.8 276.5,422.8 279,422.8 281.5,422.8 284,422.8 286.5,422.8 289,422.8 291.5,422.8 294,422.8 296.5,422.8 299,422.8 301.5,422.8 304,422.8 306.5,422.8 309,422.8 311.5,422.8 314,422.8 316.5,422.8 319,422.8 321.5,422.8 324,422.8 326.5,422.8 329,422.8 331.5,422.8 334,422.8 336.5,422.8 339,422.8 341.5,422.8 344,422.8 346.5,422.8 349,422.8 351.5,422.8 354,422.8 356.5,422.8 359,422.8 361.5,422.8 364,422.8 366.5,422.8 369,422.8 371.5,422.8 374,422.8 376.5,422.8 379,422.8 381.5,422.8 384,422.8 386.5,422.7 389,422.7 391.5,422.7 394,422.7 396.5,422.7 399,422.7 401.5,422.7 404,422.7 406.5,422.7 409,422.7 411.5,422.7 414,422.7 416.5,422.7 419,422.7 421.5,422.7 424,422.7 426.5,422.7 429,422.7 431.5,422.7 434,422.7 436.5,422.7 439,422.7 441.5,422.7 444,422.7 446.5,422.7 449,422.7 451.5,422.7 454,422.7 456.5,422.7 459,422.7 461.5,422.7 464,422.6 466.5,422.6 469,422.6 471.5,422.6 474,422.6 476.5,422.6 479,422.6 481.5,422.6 484,422.6 486.5,422.6 489,422.6 491.5,422.6 494,422.6 496.5,422.6 499,422.6 501.5,422.6 504,422.6 506.5,422.6 509,422.5 511.5,422.5 514,422.5 516.5,422.5 519,422.5 521.5,422.5 524,422.5 526.5,422.5 529,422.5 531.5,422.5 534,422.5 536.5,422.5 539,422.5 541.5,422.4 544,422.4 546.5,422.4 549,422.4 551.5,422.4 554,422.4 556.5,422.4 559,422.4 561.5,422.4 564,422.3 566.5,422.3 569,422.3 571.5,422.3 574,422.3 576.5,422.3 579,422.2 581.5,422.2 584,422.2 586.5,422.2 589,422.1 591.5,422.1 594,422 596.5,422 599,422 601.5,421.9 604,421.8 606.5,421.8 609,421.7 611.5,421.6 614,421.5 616.5,421.4 619,421.3 621.5,421.2 624,421.1 626.5,421 629,420.8 631.5,420.7 634,420.5 636.5,420.3 639,420.1 641.5,419.9 644,419.7 646.5,419.5 649,419.2 651.5,419 654,418.7 656.5,418.4 659,418.1 661.5,417.9 664,417.5 666.5,417.2 669,416.9 671.5,416.6 674,416.3 676.5,415.9 679,415.6 681.5,415.3 684,414.9 686.5,414.6 689,414.3 691.5,414 694,413.7 696.5,413.4 699,413.1 701.5,412.8 704,412.5 706.5,412.3 709,412 711.5,411.8 714,411.5 716.5,411.3 719,411.1 721.5,410.9 724,410.8 726.5,410.7 729,410.6 731.5,410.6 734,410.6 736.5,410.6 739,410.6 741.5,410.6 744,410.6 746.5,410.5 749,410.5 751.5,410.4 754,410.3 756.5,410.2 759,410 761.5,409.8 764,409.5 766.5,409.2 769,408.9 771.5,408.5 774,408.1 776.5,407.6 779,407.2 781.5,406.7 784,406.2 786.5,405.7 789,405.1 791.5,404.6 794,404.1 796.5,403.6 799,403.1 801.5,402.6 804,402.2 806.5,401.8 809,401.4 811.5,401 814,400.7 816.5,400.4 819,400.2 821.5,400 824,399.8 826.5,399.7 829,399.6 831.5,399.6 834,399.6 836.5,399.6 839,399.6 841.5,399.7 844,399.8 846.5,399.9 849,400 851.5,400.1 854,400.2 856.5,400.3 859,400.4 861.5,400.5 864,400.6 866.5,400.6 869,400.7 871.5,400.7 874,400.6 876.5,400.5 879,400.4 881.5,400.3 884,400.1 886.5,399.8 889,399.5 891.5,399.1 894,398.7 896.5,398.3 899,397.7 901.5,397.2 904,396.5 906.5,395.9 909,395.1 911.5,394.3 914,393.5 916.5,392.6 919,391.7 921.5,390.7 924,389.7 926.5,388.6 929,387.6 931.5,386.4 934,385.3 936.5,384.1 939,382.9 941.5,381.7 944,380.4 946.5,379.2 949,377.9 951.5,376.7 954,375.4 956.5,374.1 959,372.9 961.5,371.6 964,370.4 966.5,369.1 969,367.9 971.5,366.7 974,365.6 976.5,364.4 979,363.3 981.5,362.2 984,361.2 986.5,360.2 989,359.2 991.5,358.3 994,357.4 996.5,356.6 999,355.8 1001.5,355 1004,354.3 1006.5,353.6 1009,353 1011.5,352.4 1014,351.8 1016.5,351.3 1019,350.8 1021.5,350.4 1024,350 1026.5,349.6 1029,349.3 1031.5,349 1034,348.7 1036.5,348.5 1039,348.3 1041.5,348.1 1044,347.9 1046.5,347.7 1049,347.5 1051.5,347.4 1054,347.2 1056.5,347.1 1059,347 1061.5,346.8 1064,346.7 1066.5,346.5 1069,346.4 1071.5,346.2 1074,346.1 1076.5,345.9 1079,345.7 1081.5,345.5 1084,345.3 1086.5,345.1 1089,344.9 1091.5,344.6 1094,344.3 1096.5,344 1099,343.7 1101.5,343.4 1104,343.1 1106.5,342.8 1109,342.4 1111.5,342 1114,341.7 1116.5,341.3 1119,340.9 1121.5,340.5 1124,340.1 1126.5,339.6 1129,339.2 1131.5,338.8 1134,338.4 1136.5,337.9 1139,337.5 1141.5,337.1 1144,336.7 1146.5,336.2 1149,335.8 1151.5,335.4 1154,335.1 1156.5,334.7 1159,334.3 1161.5,334 1164,333.6 1166.5,333.3 1169,333 1171.5,332.7 1174,332.4 1176.5,332.2 1179,332 1181.5,331.8 1184,331.6 1186.5,331.4 1189,331.3 1191.5,331.2 1194,331.1 1196.5,331 1199,331 1201.5,331 1204,331 1206.5,331 1209,331.1 1211.5,331.2 1214,331.4 1216.5,331.5 1219,331.7 1221.5,331.9 1224,332.2 1226.5,332.4 1229,332.7 1231.5,333.1 1234,333.4 1236.5,333.8 1239,334.2 1241.5,334.7 1244,335.1 1246.5,335.6 1249,336.1 1251.5,336.7 1254,337.2 1256.5,337.8 1259,338.4 1261.5,339.1 1264,339.7 1266.5,340.4 1269,341.1 1271.5,341.8 1274,342.5 1276.5,343.2 1279,344 1281.5,344.8 1284,345.6 1286.5,346.4 1289,347.2 1291.5,348 1294,348.9 1296.5,349.7 1299,350.6 1301.5,351.5 1304,352.4 1306.5,353.2 1309,354.1 1311.5,355.1 1314,356 1316.5,356.9 1319,357.8 1321.5,358.8 1324,359.7 1326.5,360.6 1329,361.6 1331.5,362.5 1334,363.5 1336.5,364.4 1339,365.4 1341.5,366.3 1344,367.2 1346.5,368.2 1349,369.1 1351.5,370.1 1354,371 1356.5,372 1359,372.9 1361.5,373.8 1364,374.7 1366.5,375.7 1369,376.6 1371.5,377.5 1374,378.4 1376.5,379.3 1379,380.2 1381.5,381.1 1384,381.9 1386.5,382.8 1389,383.7 1391.5,384.5 1394,385.4 1396.5,386.2 1399,387 1401.5,387.8 1404,388.7 1406.5,389.5 1409,390.2 1411.5,391 1414,391.8 1416.5,392.5 1419,393.3 1421.5,394 1424,394.8 1426.5,395.5 1429,396.2 1431.5,396.9 1434,397.6 1436.5,398.2 1439,398.9 1441.5,399.5 1444,400.2 1446.5,400.8 1449,401.4 1451.5,402 1454,402.6 1456.5,403.2 1459,403.8 1461.5,404.3 1464,404.9 1466.5,405.4 1469,406 1471.5,406.5 1474,407 1476.5,407.5 1479,408 1481.5,408.4 1484,408.9 1486.5,409.3 1489,409.8 1491.5,410.2 1494,410.6 1496.5,411.1 1499,411.5 1501.5,411.9 1504,412.2 1506.5,412.6 1509,413 1511.5,413.3 1514,413.7 1516.5,414 1519,414.3 1521.5,414.7 1524,415 1526.5,415.3 1529,415.6 1531.5,415.9 1534,416.1 1536.5,416.4 1539,416.7 1541.5,416.9 1544,417.2 1546.5,417.4 1549,417.7 1551.5,417.9 1554,418.1 1556.5,418.3 1559,418.5 1561.5,418.7 1564,418.9 1566.5,419.1 1569,419.3 1571.5,419.5 1574,419.7 1576.5,419.8 1579,420 1581.5,420.2 1584,420.3 1586.5,420.5 1589,420.6 1591.5,420.8 1594,420.9 1596.5,421 1599,421.2 1601.5,421.3 1604,421.4 1606.5,421.5 1609,421.6 1611.5,421.7 1614,421.9 1616.5,422 1619,422.1 1621.5,422.2 1624,422.2 1626.5,422.3 1629,422.4 1631.5,422.5 1634,422.6 1636.5,422.7 1639,422.7 1641.5,422.8 1644,422.9 1646.5,423 1649,423 1651.5,423.1 1654,423.2 1656.5,423.2 1659,423.3 1661.5,423.3 1664,423.4 1666.5,423.5 1669,423.5 1671.5,423.6 1674,423.6 1676.5,423.7 1679,423.7 1681.5,423.8 1684,423.8 1686.5,423.9 1689,423.9 1691.5,423.9 1694,424 1696.5,424 1699,424.1 1701.5,424.1 1704,424.1 1706.5,424.2 1709,424.2 1711.5,424.2 1714,424.3" stroke="#ef4a54" stroke-width="2.1"/>
</g>
<g fill="none" stroke-linejoin="round">
<polyline points="199,706.6 201.5,706.6 204,706.6 206.5,706.6 209,706.6 211.5,706.6 214,706.6 216.5,706.6 219,706.6 221.5,706.6 224,706.6 226.5,706.6 229,706.7 231.5,706.7 234,706.7 236.5,706.7 239,706.7 241.5,706.7 244,706.7 246.5,706.7 249,706.7 251.5,706.7 254,706.7 256.5,706.7 259,706.7 261.5,706.7 264,706.7 266.5,706.7 269,706.7 271.5,706.7 274,706.7 276.5,706.7 279,706.7 281.5,706.7 284,706.7 286.5,706.7 289,706.8 291.5,706.8 294,706.8 296.5,706.8 299,706.8 301.5,706.8 304,706.8 306.5,706.8 309,706.8 311.5,706.8 314,706.8 316.5,706.8 319,706.8 321.5,706.8 324,706.8 326.5,706.8 329,706.8 331.5,706.8 334,706.8 336.5,706.8 339,706.8 341.5,706.8 344,706.8 346.5,706.8 349,706.9 351.5,706.9 354,706.9 356.5,706.9 359,706.9 361.5,706.9 364,706.9 366.5,706.9 369,706.9 371.5,706.9 374,706.9 376.5,706.9 379,706.9 381.5,706.9 384,706.9 386.5,706.9 389,706.9 391.5,706.9 394,706.9 396.5,706.9 399,706.9 401.5,706.9 404,706.9 406.5,706.9 409,706.9 411.5,707 414,707 416.5,707 419,707 421.5,707 424,707 426.5,707 429,707 431.5,707 434,707 436.5,707 439,707 441.5,707 444,707 446.5,707 449,707 451.5,707 454,707 456.5,707 459,707 461.5,707 464,707 466.5,707 469,707 471.5,707.1 474,707.1 476.5,707.1 479,707.1 481.5,707.1 484,707.1 486.5,707.1 489,707.1 491.5,707.1 494,707.1 496.5,707.1 499,707.1 501.5,707.1 504,707.1 506.5,707.1 509,707.1 511.5,707.1 514,707.1 516.5,707.1 519,707.1 521.5,707.1 524,707.1 526.5,707.1 529,707.1 531.5,707.2 534,707.2 536.5,707.2 539,707.2 541.5,707.2 544,707.2 546.5,707.2 549,707.2 551.5,707.2 554,707.2 556.5,707.2 559,707.2 561.5,707.2 564,707.2 566.5,707.2 569,707.2 571.5,707.2 574,707.2 576.5,707.2 579,707.2 581.5,707.2 584,707.2 586.5,707.2 589,707.2 591.5,707.2 594,707.3 596.5,707.3 599,707.3 601.5,707.3 604,707.3 606.5,707.3 609,707.3 611.5,707.3 614,707.3 616.5,707.3 619,707.3 621.5,707.3 624,707.3 626.5,707.3 629,707.3 631.5,707.3 634,707.3 636.5,707.3 639,707.3 641.5,707.3 644,707.3 646.5,707.3 649,707.3 651.5,707.3 654,707.4 656.5,707.4 659,707.4 661.5,707.4 664,707.4 666.5,707.4 669,707.4 671.5,707.4 674,707.4 676.5,707.4 679,707.4 681.5,707.4 684,707.4 686.5,707.4 689,707.4 691.5,707.4 694,707.4 696.5,707.4 699,707.4 701.5,707.4 704,707.4 706.5,707.4 709,707.4 711.5,707.4 714,707.5 716.5,707.5 719,707.5 721.5,707.5 724,707.5 726.5,707.5 729,707.5 731.5,707.5 734,707.5 736.5,707.5 739,707.5 741.5,707.5 744,707.5 746.5,707.5 749,707.5 751.5,707.5 754,707.5 756.5,707.5 759,707.5 761.5,707.5 764,707.5 766.5,707.5 769,707.5 771.5,707.5 774,707.5 776.5,707.6 779,707.6 781.5,707.6 784,707.6 786.5,707.6 789,707.6 791.5,707.6 794,707.6 796.5,707.6 799,707.6 801.5,707.6 804,707.6 806.5,707.6 809,707.6 811.5,707.6 814,707.6 816.5,707.6 819,707.6 821.5,707.6 824,707.6 826.5,707.6 829,707.6 831.5,707.6 834,707.6 836.5,707.7 839,707.7 841.5,707.7 844,707.7 846.5,707.7 849,707.7 851.5,707.7 854,707.7 856.5,707.7 859,707.7 861.5,707.7 864,707.7 866.5,707.7 869,707.7 871.5,707.7 874,707.7 876.5,707.7 879,707.7 881.5,707.7 884,707.7 886.5,707.7 889,707.7 891.5,707.7 894,707.7 896.5,707.8 899,707.8 901.5,707.8 904,707.8 906.5,707.8 909,707.8 911.5,707.8 914,707.8 916.5,707.8 919,707.8 921.5,707.8 924,707.8 926.5,707.8 929,707.8 931.5,707.8 934,707.8 936.5,707.8 939,707.8 941.5,707.8 944,707.8 946.5,707.8 949,707.8 951.5,707.8 954,707.8 956.5,707.9 959,707.9 961.5,707.9 964,707.9 966.5,707.9 969,707.9 971.5,707.9 974,707.9 976.5,707.9 979,707.9 981.5,707.9 984,707.9 986.5,707.9 989,707.9 991.5,707.9 994,707.9 996.5,707.9 999,707.9 1001.5,707.9 1004,707.9 1006.5,707.9 1009,707.9 1011.5,707.9 1014,707.9 1016.5,707.9 1019,708 1021.5,708 1024,708 1026.5,708 1029,708 1031.5,708 1034,708 1036.5,708 1039,708 1041.5,708 1044,708 1046.5,708 1049,708 1051.5,708 1054,708 1056.5,708 1059,708 1061.5,708 1064,708 1066.5,708 1069,708 1071.5,708 1074,708 1076.5,708 1079,708.1 1081.5,708.1 1084,708.1 1086.5,708.1 1089,708.1 1091.5,708.1 1094,708.1 1096.5,708.1 1099,708.1 1101.5,708.1 1104,708.1 1106.5,708.1 1109,708.1 1111.5,708.1 1114,708.1 1116.5,708.1 1119,708.1 1121.5,708.1 1124,708.1 1126.5,708.1 1129,708.1 1131.5,708.1 1134,708.1 1136.5,708.1 1139,708.2 1141.5,708.2 1144,708.2 1146.5,708.2 1149,708.2 1151.5,708.2 1154,708.2 1156.5,708.2 1159,708.2 1161.5,708.2 1164,708.2 1166.5,708.2 1169,708.2 1171.5,708.2 1174,708.2 1176.5,708.2 1179,708.2 1181.5,708.2 1184,708.2 1186.5,708.2 1189,708.2 1191.5,708.2 1194,708.2 1196.5,708.2 1199,708.2 1201.5,708.3 1204,708.3 1206.5,708.3 1209,708.3 1211.5,708.3 1214,708.3 1216.5,708.3 1219,708.3 1221.5,708.3 1224,708.3 1226.5,708.3 1229,708.3 1231.5,708.3 1234,708.3 1236.5,708.3 1239,708.3 1241.5,708.3 1244,708.3 1246.5,708.3 1249,708.3 1251.5,708.3 1254,708.3 1256.5,708.3 1259,708.3 1261.5,708.4 1264,708.4 1266.5,708.4 1269,708.4 1271.5,708.4 1274,708.4 1276.5,708.4 1279,708.4 1281.5,708.4 1284,708.4 1286.5,708.4 1289,708.4 1291.5,708.4 1294,708.4 1296.5,708.4 1299,708.4 1301.5,708.4 1304,708.4 1306.5,708.4 1309,708.4 1311.5,708.4 1314,708.4 1316.5,708.4 1319,708.4 1321.5,708.5 1324,708.5 1326.5,708.5 1329,708.5 1331.5,708.5 1334,708.5 1336.5,708.5 1339,708.5 1341.5,708.5 1344,708.5 1346.5,708.5 1349,708.5 1351.5,708.5 1354,708.5 1356.5,708.5 1359,708.5 1361.5,708.5 1364,708.5 1366.5,708.5 1369,708.5 1371.5,708.5 1374,708.5 1376.5,708.5 1379,708.5 1381.5,708.5 1384,708.6 1386.5,708.6 1389,708.6 1391.5,708.6 1394,708.6 1396.5,708.6 1399,708.6 1401.5,708.6 1404,708.6 1406.5,708.6 1409,708.6 1411.5,708.6 1414,708.6 1416.5,708.6 1419,708.6 1421.5,708.6 1424,708.6 1426.5,708.6 1429,708.6 1431.5,708.6 1434,708.6 1436.5,708.6 1439,708.6 1441.5,708.6 1444,708.7 1446.5,708.7 1449,708.7 1451.5,708.7 1454,708.7 1456.5,708.7 1459,708.7 1461.5,708.7 1464,708.7 1466.5,708.7 1469,708.7 1471.5,708.7 1474,708.7 1476.5,708.7 1479,708.7 1481.5,708.7 1484,708.7 1486.5,708.7 1489,708.7 1491.5,708.7 1494,708.7 1496.5,708.7 1499,708.7 1501.5,708.7 1504,708.8 1506.5,708.8 1509,708.8 1511.5,708.8 1514,708.8 1516.5,708.8 1519,708.8 1521.5,708.8 1524,708.8 1526.5,708.8 1529,708.8 1531.5,708.8 1534,708.8 1536.5,708.8 1539,708.8 1541.5,708.8 1544,708.8 1546.5,708.8 1549,708.8 1551.5,708.8 1554,708.8 1556.5,708.8 1559,708.8 1561.5,708.8 1564,708.8 1566.5,708.9 1569,708.9 1571.5,708.9 1574,708.9 1576.5,708.9 1579,708.9 1581.5,708.9 1584,708.9 1586.5,708.9 1589,708.9 1591.5,708.9 1594,708.9 1596.5,708.9 1599,708.9 1601.5,708.9 1604,708.9 1606.5,708.9 1609,708.9 1611.5,708.9 1614,708.9 1616.5,708.9 1619,708.9 1621.5,708.9 1624,708.9 1626.5,709 1629,709 1631.5,709 1634,709 1636.5,709 1639,709 1641.5,709 1644,709 1646.5,709 1649,709 1651.5,709 1654,709 1656.5,709 1659,709 1661.5,709 1664,709 1666.5,709 1669,709 1671.5,709 1674,709 1676.5,709 1679,709 1681.5,709 1684,709 1686.5,709.1 1689,709.1 1691.5,709.1 1694,709.1 1696.5,709.1 1699,709.1 1701.5,709.1 1704,709.1 1706.5,709.1 1709,709.1 1711.5,709.1 1714,709.1" stroke="#8e8e8e" stroke-width="2.4"/>
<polyline points="646.5,706.8 649,706.8 651.5,706.7 654,706.6 656.5,706.5 659,706.4 661.5,706.3 664,706.2 666.5,706 669,705.9 671.5,705.8 674,705.7 676.5,705.5 679,705.4 681.5,705.3 684,705.2 686.5,705.1 689,705.1 691.5,705 694,705 696.5,704.9 699,704.9 701.5,704.9 704,705 706.5,705 709,705.1 711.5,705.1 714,705.2 716.5,705.3 719,705.4 721.5,705.5 724,705.7 726.5,705.8 729,705.9 731.5,706 734,706.2 736.5,706.3 739,706.4 741.5,706.5 744,706.6 746.5,706.8 749,706.8 751.5,706.9" stroke="#22b4a4" stroke-width="2.1"/>
<polyline points="684,706.8 686.5,706.7 689,706.6 691.5,706.4 694,706.2 696.5,706 699,705.7 701.5,705.4 704,705.1 706.5,704.8 709,704.4 711.5,704 714,703.5 716.5,703 719,702.5 721.5,702 724,701.5 726.5,700.9 729,700.4 731.5,699.8 734,699.3 736.5,698.8 739,698.3 741.5,697.9 744,697.5 746.5,697.2 749,696.9 751.5,696.7 754,696.6 756.5,696.5 759,696.5 761.5,696.7 764,696.8 766.5,697.1 769,697.4 771.5,697.8 774,698.2 776.5,698.6 779,699.2 781.5,699.7 784,700.2 786.5,700.8 789,701.3 791.5,701.9 794,702.4 796.5,703 799,703.5 801.5,703.9 804,704.4 806.5,704.8 809,705.2 811.5,705.5 814,705.8 816.5,706.1 819,706.3 821.5,706.5 824,706.7 826.5,706.9 829,707 831.5,707.1" stroke="#34a065" stroke-width="2.1"/>
<polyline points="806.5,707.1 809,706.9 811.5,706.7 814,706.4 816.5,706.1 819,705.7 821.5,705.3 824,704.8 826.5,704.3 829,703.7 831.5,703.2 834,702.6 836.5,702 839,701.4 841.5,700.9 844,700.4 846.5,700.1 849,699.8 851.5,699.7 854,699.7 856.5,699.8 859,700 861.5,700.4 864,700.8 866.5,701.3 869,701.9 871.5,702.5 874,703.1 876.5,703.7 879,704.3 881.5,704.8 884,705.3 886.5,705.8 889,706.2 891.5,706.5 894,706.8 896.5,707 899,707.2" stroke="#b45fd2" stroke-width="2.1"/>
<polyline points="791.5,707.1 794,707 796.5,707 799,706.9 801.5,706.8 804,706.8 806.5,706.7 809,706.6 811.5,706.5 814,706.4 816.5,706.3 819,706.2 821.5,706 824,705.9 826.5,705.7 829,705.6 831.5,705.4 834,705.2 836.5,705 839,704.8 841.5,704.6 844,704.3 846.5,704.1 849,703.8 851.5,703.6 854,703.3 856.5,703 859,702.6 861.5,702.3 864,701.9 866.5,701.6 869,701.2 871.5,700.8 874,700.3 876.5,699.9 879,699.5 881.5,699 884,698.5 886.5,698 889,697.5 891.5,697 894,696.5 896.5,696 899,695.4 901.5,694.9 904,694.3 906.5,693.7 909,693.2 911.5,692.6 914,692 916.5,691.4 919,690.9 921.5,690.3 924,689.7 926.5,689.2 929,688.6 931.5,688.1 934,687.5 936.5,687 939,686.5 941.5,686.1 944,685.6 946.5,685.1 949,684.7 951.5,684.3 954,684 956.5,683.6 959,683.3 961.5,683 964,682.8 966.5,682.5 969,682.3 971.5,682.2 974,682.1 976.5,682 979,681.9 981.5,681.9 984,681.9 986.5,682 989,682.1 991.5,682.2 994,682.4 996.5,682.7 999,682.9 1001.5,683.3 1004,683.6 1006.5,684 1009,684.4 1011.5,684.9 1014,685.4 1016.5,685.9 1019,686.5 1021.5,687 1024,687.6 1026.5,688.2 1029,688.8 1031.5,689.5 1034,690.1 1036.5,690.8 1039,691.4 1041.5,692.1 1044,692.7 1046.5,693.4 1049,694.1 1051.5,694.7 1054,695.4 1056.5,696 1059,696.6 1061.5,697.2 1064,697.8 1066.5,698.4 1069,698.9 1071.5,699.5 1074,700 1076.5,700.5 1079,701 1081.5,701.5 1084,701.9 1086.5,702.4 1089,702.8 1091.5,703.2 1094,703.5 1096.5,703.9 1099,704.2 1101.5,704.5 1104,704.8 1106.5,705.1 1109,705.3 1111.5,705.6 1114,705.8 1116.5,706 1119,706.2 1121.5,706.4 1124,706.5 1126.5,706.7 1129,706.8 1131.5,707 1134,707.1 1136.5,707.2 1139,707.3 1141.5,707.4 1144,707.5 1146.5,707.6 1149,707.6" stroke="#3d84e6" stroke-width="2.1"/>
<polyline points="1179,707.7 1181.5,707.5 1184,707.4 1186.5,707.2 1189,707 1191.5,706.8 1194,706.6 1196.5,706.3 1199,706 1201.5,705.7 1204,705.4 1206.5,705 1209,704.6 1211.5,704.3 1214,703.9 1216.5,703.6 1219,703.3 1221.5,703 1224,702.7 1226.5,702.5 1229,702.3 1231.5,702.2 1234,702.1 1236.5,702.1 1239,702.1 1241.5,702.2 1244,702.2 1246.5,702.3 1249,702.5 1251.5,702.6 1254,702.7 1256.5,702.9 1259,703.1 1261.5,703.3 1264,703.5 1266.5,703.7 1269,704 1271.5,704.2 1274,704.4 1276.5,704.7 1279,704.9 1281.5,705.1 1284,705.4 1286.5,705.6 1289,705.8 1291.5,706 1294,706.2 1296.5,706.4 1299,706.6 1301.5,706.8 1304,707 1306.5,707.1 1309,707.3 1311.5,707.4 1314,707.5 1316.5,707.6 1319,707.7 1321.5,707.8 1324,707.9" stroke="#d9a82a" stroke-width="2.1"/>
<polyline points="199,702.9 201.5,703.1 204,703.4 206.5,703.5 209,703.3 211.5,703.2 214,703.2 216.5,703.1 219,703 221.5,703.2 224,703.6 226.5,704.1 229,704.5 231.5,704.4 234,703.7 236.5,702.7 239,701.7 241.5,701.4 244,702 246.5,703.3 249,704.5 251.5,704.7 254,703.7 256.5,702.3 259,701.4 261.5,701.3 264,701.8 266.5,702.5 269,702.9 271.5,703 274,703.4 276.5,703.7 279,703.6 281.5,703.3 284,702.9 286.5,702.7 289,702.8 291.5,703 294,703.1 296.5,703.1 299,702.9 301.5,702.6 304,702.2 306.5,701.8 309,701.8 311.5,702.1 314,702.5 316.5,703 319,703.3 321.5,703.3 324,703.5 326.5,703.9 329,704.1 331.5,704.1 334,703.7 336.5,703 339,702.6 341.5,702.9 344,703.5 346.5,703.9 349,704.1 351.5,704 354,703.9 356.5,704 359,704 361.5,704.1 364,704.3 366.5,704.6 369,704.8 371.5,705 374,704.8 376.5,704.2 379,703.7 381.5,703.2 384,702.7 386.5,702.6 389,702.6 391.5,702.6 394,702.5 396.5,702.4 399,702.5 401.5,702.7 404,703 406.5,703.3 409,703.7 411.5,704.1 414,704.6 416.5,704.6 419,704.1 421.5,703.6 424,703.3 426.5,703.4 429,703.9 431.5,704.4 434,704.7 436.5,704.6 439,704.4 441.5,704.2 444,703.8 446.5,703.5 449,703.6 451.5,703.8 454,703.8 456.5,703.6 459,703.1 461.5,702.6 464,702.4 466.5,702.3 469,702.2 471.5,702.2 474,702.2 476.5,702.2 479,702.2 481.5,702.3 484,702.7 486.5,702.9 489,702.8 491.5,702.6 494,702.5 496.5,702.8 499,703.2 501.5,703.4 504,703.3 506.5,702.9 509,702.6 511.5,702.6 514,702.6 516.5,702.7 519,703 521.5,703.4 524,703.5 526.5,703.3 529,702.8 531.5,702.4 534,702.3 536.5,702.7 539,703.2 541.5,703.3 544,703 546.5,702.7 549,702.7 551.5,702.9 554,703 556.5,702.7 559,702 561.5,701.1 564,700.5 566.5,700.4 569,700.7 571.5,701.1 574,701.5 576.5,702 579,702.4 581.5,702.7 584,703 586.5,703.3 589,703.2 591.5,702.8 594,702.3 596.5,701.9 599,702 601.5,702.3 604,702.7 606.5,702.8 609,702.7 611.5,702.4 614,702.2 616.5,702.3 619,703.1 621.5,704 624,704.6 626.5,704.2 629,703.2 631.5,702 634,701.1 636.5,700.4 639,700.1 641.5,700.1 644,700.5 646.5,701.2 649,701.7 651.5,701.8 654,701.6 656.5,701.4 659,701.2 661.5,700.9 664,700.1 666.5,699.2 669,699 671.5,699.3 674,700 676.5,700.5 679,700.4 681.5,699.9 684,699.4 686.5,698.9 689,698.3 691.5,697.7 694,697.1 696.5,696.7 699,696.6 701.5,696.9 704,697.3 706.5,697.6 709,697.8 711.5,697.8 714,697.8 716.5,697.7 719,697.2 721.5,696.6 724,696.1 726.5,695.8 729,695.6 731.5,695.3 734,694.7 736.5,693.9 739,693.2 741.5,692.7 744,692.3 746.5,691.8 749,691.1 751.5,690.5 754,690.3 756.5,690.5 759,690.9 761.5,691.2 764,691.4 766.5,691.6 769,692.1 771.5,692.6 774,693 776.5,693 779,692.6 781.5,692.2 784,692 786.5,692 789,691.9 791.5,691.8 794,691.9 796.5,692.2 799,692.4 801.5,692.5 804,692.5 806.5,692.4 809,692.4 811.5,692.6 814,692.7 816.5,692.4 819,691.4 821.5,689.9 824,688.4 826.5,687.1 829,686.3 831.5,686.2 834,686.5 836.5,687 839,687.7 841.5,688 844,687.6 846.5,686.7 849,685.6 851.5,685 854,685.3 856.5,686.1 859,687 861.5,687.4 864,687.5 866.5,686.9 869,686 871.5,685 874,683.6 876.5,681.9 879,680.2 881.5,678.7 884,677.6 886.5,677.5 889,677.8 891.5,678.1 894,678.4 896.5,678.5 899,678.5 901.5,678.5 904,678.3 906.5,677.9 909,676.9 911.5,675.7 914,674.2 916.5,672.2 919,670.2 921.5,668.4 924,667.2 926.5,666.3 929,665.3 931.5,664.3 934,663.7 936.5,663.6 939,664 941.5,664.7 944,665.3 946.5,665.8 949,665.9 951.5,665.2 954,663 956.5,660.1 959,657.5 961.5,655.4 964,654.3 966.5,653.6 969,652.9 971.5,652.3 974,651.6 976.5,650.8 979,649.6 981.5,648.4 984,647.6 986.5,647.3 989,647.6 991.5,648.1 994,648.5 996.5,648.4 999,647.5 1001.5,645.8 1004,643.5 1006.5,641.1 1009,638.9 1011.5,637.5 1014,636.8 1016.5,636.6 1019,636.6 1021.5,636.6 1024,636.5 1026.5,636.3 1029,636.1 1031.5,635.7 1034,635.3 1036.5,635.2 1039,635.6 1041.5,636.3 1044,637 1046.5,637.6 1049,637.7 1051.5,637.3 1054,636.7 1056.5,635.9 1059,635.3 1061.5,635.1 1064,635 1066.5,634.6 1069,633.9 1071.5,633.2 1074,632.9 1076.5,633.3 1079,633.9 1081.5,633.9 1084,633.1 1086.5,632.1 1089,631.5 1091.5,631.7 1094,632.5 1096.5,633.2 1099,633.3 1101.5,633.3 1104,633.3 1106.5,633.7 1109,634.5 1111.5,635.6 1114,636.5 1116.5,637 1119,636.8 1121.5,636.4 1124,636.2 1126.5,636.2 1129,636.5 1131.5,636.6 1134,636.2 1136.5,635.2 1139,633.9 1141.5,633.2 1144,633.3 1146.5,633.8 1149,634 1151.5,633.6 1154,632.7 1156.5,631.8 1159,631.5 1161.5,631.6 1164,631.8 1166.5,632.1 1169,632.3 1171.5,632.2 1174,631.4 1176.5,630.2 1179,628.9 1181.5,627.9 1184,627.4 1186.5,627.2 1189,626.7 1191.5,625.6 1194,624.5 1196.5,624.1 1199,623.9 1201.5,623.5 1204,622.5 1206.5,620.8 1209,619.4 1211.5,618.9 1214,619.1 1216.5,619.3 1219,619.3 1221.5,619.2 1224,619 1226.5,619.1 1229,619.2 1231.5,619.4 1234,619.4 1236.5,619.5 1239,619.4 1241.5,619.4 1244,619.1 1246.5,618.8 1249,618.6 1251.5,618.7 1254,619.4 1256.5,620.4 1259,621.4 1261.5,622.2 1264,622.8 1266.5,623.4 1269,624.1 1271.5,625.1 1274,626.4 1276.5,627.9 1279,629.8 1281.5,631.8 1284,633.9 1286.5,636.1 1289,638.3 1291.5,640.2 1294,642.1 1296.5,643.5 1299,644.4 1301.5,644.8 1304,645.1 1306.5,645.8 1309,647 1311.5,648.4 1314,649.6 1316.5,651 1319,652.7 1321.5,654.9 1324,657.5 1326.5,659.8 1329,661.4 1331.5,662.5 1334,663.4 1336.5,664.4 1339,665.6 1341.5,667 1344,668.5 1346.5,670.2 1349,672.2 1351.5,674.1 1354,675.8 1356.5,677 1359,677.6 1361.5,677.9 1364,678.5 1366.5,679.5 1369,680.8 1371.5,682.2 1374,683.6 1376.5,684.6 1379,685.3 1381.5,685.9 1384,686.5 1386.5,687.2 1389,688.1 1391.5,689.2 1394,690.2 1396.5,691 1399,691.6 1401.5,692.2 1404,693.1 1406.5,694.3 1409,695.6 1411.5,696.5 1414,697.4 1416.5,698.3 1419,699.3 1421.5,700.2 1424,700.7 1426.5,700.8 1429,701.1 1431.5,701.8 1434,702.4 1436.5,702.5 1439,702.3 1441.5,702.2 1444,702.9 1446.5,704.2 1449,705.9 1451.5,707.2 1454,707.8 1456.5,707.9 1459,707.3 1461.5,706.6 1464,706.1 1466.5,705.9 1469,706 1471.5,706.2 1474,706.2 1476.5,706 1479,705.9 1481.5,705.8 1484,705.8 1486.5,705.9 1489,705.7 1491.5,705.3 1494,704.8 1496.5,704.6 1499,704.8 1501.5,705.4 1504,706 1506.5,706.6 1509,707 1511.5,707.1 1514,707.1 1516.5,706.8 1519,706.3 1521.5,705.9 1524,705.8 1526.5,706 1529,706.4 1531.5,706.6 1534,706.5 1536.5,706.3 1539,705.8 1541.5,705.4 1544,705.4 1546.5,705.8 1549,706.4 1551.5,707.1 1554,707.7 1556.5,708.1 1559,708.4 1561.5,708.6 1564,708.7 1566.5,708.7 1569,708.9 1571.5,709.1 1574,709 1576.5,708.2 1579,706.8 1581.5,705.5 1584,705.2 1586.5,705.7 1589,706.7 1591.5,707.2 1594,707.1 1596.5,706.8 1599,706.5 1601.5,706.3 1604,706.3 1606.5,706.1 1609,706 1611.5,706 1614,706 1616.5,705.8 1619,705.7 1621.5,705.6 1624,705.7 1626.5,706.3 1629,707 1631.5,707.4 1634,707.2 1636.5,706.4 1639,705.5 1641.5,705 1644,705 1646.5,705.3 1649,705.7 1651.5,705.9 1654,706 1656.5,706.3 1659,706.8 1661.5,707.3 1664,707.6 1666.5,707.6 1669,707.5 1671.5,707.4 1674,707.5 1676.5,707.5 1679,707.2 1681.5,706.9 1684,706.5 1686.5,706.1 1689,705.9 1691.5,706 1694,706.1 1696.5,706.2 1699,706.4 1701.5,707.1 1704,707.9 1706.5,708.7 1709,708.9 1711.5,708.5 1714,708.1" stroke="#6a6a6a" stroke-width="2.1"/>
<polyline points="199,706.2 201.5,706.3 204,706.3 206.5,706.3 209,706.3 211.5,706.3 214,706.3 216.5,706.3 219,706.3 221.5,706.3 224,706.3 226.5,706.3 229,706.3 231.5,706.3 234,706.3 236.5,706.3 239,706.3 241.5,706.3 244,706.3 246.5,706.3 249,706.3 251.5,706.3 254,706.3 256.5,706.3 259,706.3 261.5,706.3 264,706.3 266.5,706.3 269,706.3 271.5,706.3 274,706.3 276.5,706.3 279,706.3 281.5,706.3 284,706.3 286.5,706.3 289,706.3 291.5,706.3 294,706.3 296.5,706.3 299,706.3 301.5,706.3 304,706.3 306.5,706.3 309,706.3 311.5,706.3 314,706.3 316.5,706.3 319,706.3 321.5,706.3 324,706.4 326.5,706.4 329,706.4 331.5,706.4 334,706.4 336.5,706.4 339,706.4 341.5,706.4 344,706.4 346.5,706.4 349,706.4 351.5,706.4 354,706.4 356.5,706.4 359,706.4 361.5,706.4 364,706.4 366.5,706.4 369,706.4 371.5,706.4 374,706.4 376.5,706.4 379,706.4 381.5,706.4 384,706.4 386.5,706.4 389,706.4 391.5,706.4 394,706.4 396.5,706.4 399,706.4 401.5,706.4 404,706.4 406.5,706.4 409,706.4 411.5,706.4 414,706.4 416.5,706.4 419,706.4 421.5,706.4 424,706.4 426.5,706.4 429,706.4 431.5,706.4 434,706.4 436.5,706.4 439,706.4 441.5,706.4 444,706.4 446.5,706.4 449,706.4 451.5,706.4 454,706.4 456.5,706.4 459,706.4 461.5,706.4 464,706.4 466.5,706.4 469,706.4 471.5,706.4 474,706.4 476.5,706.4 479,706.4 481.5,706.4 484,706.4 486.5,706.4 489,706.4 491.5,706.4 494,706.4 496.5,706.4 499,706.4 501.5,706.4 504,706.4 506.5,706.4 509,706.4 511.5,706.4 514,706.4 516.5,706.4 519,706.4 521.5,706.4 524,706.4 526.5,706.4 529,706.4 531.5,706.4 534,706.4 536.5,706.4 539,706.4 541.5,706.4 544,706.4 546.5,706.4 549,706.4 551.5,706.4 554,706.4 556.5,706.4 559,706.4 561.5,706.3 564,706.3 566.5,706.3 569,706.3 571.5,706.3 574,706.3 576.5,706.3 579,706.3 581.5,706.3 584,706.3 586.5,706.3 589,706.3 591.5,706.3 594,706.3 596.5,706.3 599,706.3 601.5,706.3 604,706.3 606.5,706.3 609,706.3 611.5,706.2 614,706.2 616.5,706.2 619,706.2 621.5,706.2 624,706.2 626.5,706.2 629,706.2 631.5,706.2 634,706.2 636.5,706.1 639,706.1 641.5,706.1 644,706.1 646.5,706.1 649,706.1 651.5,706.1 654,706.1 656.5,706 659,706 661.5,706 664,706 666.5,706 669,705.9 671.5,705.9 674,705.9 676.5,705.9 679,705.9 681.5,705.8 684,705.8 686.5,705.8 689,705.8 691.5,705.7 694,705.7 696.5,705.7 699,705.6 701.5,705.6 704,705.6 706.5,705.5 709,705.5 711.5,705.5 714,705.4 716.5,705.4 719,705.3 721.5,705.3 724,705.2 726.5,705.2 729,705.1 731.5,705.1 734,705 736.5,705 739,704.9 741.5,704.9 744,704.8 746.5,704.7 749,704.7 751.5,704.6 754,704.5 756.5,704.4 759,704.4 761.5,704.3 764,704.2 766.5,704.1 769,704 771.5,703.9 774,703.8 776.5,703.7 779,703.6 781.5,703.5 784,703.4 786.5,703.3 789,703.2 791.5,703.1 794,702.9 796.5,702.8 799,702.7 801.5,702.5 804,702.4 806.5,702.2 809,702.1 811.5,701.9 814,701.8 816.5,701.6 819,701.4 821.5,701.2 824,701.1 826.5,700.9 829,700.7 831.5,700.5 834,700.3 836.5,700.1 839,699.8 841.5,699.6 844,699.4 846.5,699.2 849,698.9 851.5,698.7 854,698.4 856.5,698.2 859,697.9 861.5,697.6 864,697.3 866.5,697 869,696.7 871.5,696.4 874,696.1 876.5,695.8 879,695.5 881.5,695.1 884,694.8 886.5,694.4 889,694.1 891.5,693.7 894,693.3 896.5,692.9 899,692.5 901.5,692.1 904,691.7 906.5,691.3 909,690.9 911.5,690.4 914,690 916.5,689.5 919,689.1 921.5,688.6 924,688.1 926.5,687.6 929,687.1 931.5,686.6 934,686.1 936.5,685.6 939,685 941.5,684.5 944,683.9 946.5,683.4 949,682.8 951.5,682.2 954,681.6 956.5,681 959,680.4 961.5,679.8 964,679.2 966.5,678.5 969,677.9 971.5,677.3 974,676.6 976.5,675.9 979,675.3 981.5,674.6 984,673.9 986.5,673.2 989,672.5 991.5,671.8 994,671.1 996.5,670.3 999,669.6 1001.5,668.9 1004,668.1 1006.5,667.4 1009,666.6 1011.5,665.9 1014,665.1 1016.5,664.3 1019,663.6 1021.5,662.8 1024,662 1026.5,661.2 1029,660.4 1031.5,659.6 1034,658.8 1036.5,658 1039,657.2 1041.5,656.4 1044,655.6 1046.5,654.8 1049,654 1051.5,653.2 1054,652.4 1056.5,651.6 1059,650.8 1061.5,650 1064,649.2 1066.5,648.4 1069,647.6 1071.5,646.8 1074,646 1076.5,645.3 1079,644.5 1081.5,643.7 1084,642.9 1086.5,642.2 1089,641.4 1091.5,640.7 1094,639.9 1096.5,639.2 1099,638.4 1101.5,637.7 1104,637 1106.5,636.3 1109,635.6 1111.5,634.9 1114,634.3 1116.5,633.6 1119,633 1121.5,632.3 1124,631.7 1126.5,631.1 1129,630.5 1131.5,629.9 1134,629.3 1136.5,628.8 1139,628.3 1141.5,627.7 1144,627.2 1146.5,626.8 1149,626.3 1151.5,625.8 1154,625.4 1156.5,625 1159,624.6 1161.5,624.2 1164,623.8 1166.5,623.5 1169,623.2 1171.5,622.9 1174,622.6 1176.5,622.4 1179,622.1 1181.5,621.9 1184,621.7 1186.5,621.5 1189,621.4 1191.5,621.3 1194,621.2 1196.5,621.1 1199,621 1201.5,621 1204,621 1206.5,621 1209,621 1211.5,621.1 1214,621.1 1216.5,621.3 1219,621.4 1221.5,621.6 1224,621.8 1226.5,622 1229,622.2 1231.5,622.5 1234,622.8 1236.5,623.1 1239,623.5 1241.5,623.8 1244,624.2 1246.5,624.6 1249,625.1 1251.5,625.5 1254,626 1256.5,626.5 1259,627.1 1261.5,627.6 1264,628.2 1266.5,628.8 1269,629.4 1271.5,630 1274,630.6 1276.5,631.3 1279,631.9 1281.5,632.6 1284,633.3 1286.5,634 1289,634.7 1291.5,635.5 1294,636.2 1296.5,637 1299,637.8 1301.5,638.5 1304,639.3 1306.5,640.1 1309,640.9 1311.5,641.8 1314,642.6 1316.5,643.4 1319,644.3 1321.5,645.1 1324,645.9 1326.5,646.8 1329,647.6 1331.5,648.5 1334,649.4 1336.5,650.2 1339,651.1 1341.5,652 1344,652.8 1346.5,653.7 1349,654.5 1351.5,655.4 1354,656.3 1356.5,657.1 1359,658 1361.5,658.9 1364,659.7 1366.5,660.6 1369,661.4 1371.5,662.2 1374,663.1 1376.5,663.9 1379,664.7 1381.5,665.6 1384,666.4 1386.5,667.2 1389,668 1391.5,668.8 1394,669.6 1396.5,670.3 1399,671.1 1401.5,671.9 1404,672.6 1406.5,673.4 1409,674.1 1411.5,674.9 1414,675.6 1416.5,676.3 1419,677 1421.5,677.7 1424,678.4 1426.5,679.1 1429,679.7 1431.5,680.4 1434,681.1 1436.5,681.7 1439,682.3 1441.5,682.9 1444,683.6 1446.5,684.2 1449,684.7 1451.5,685.3 1454,685.9 1456.5,686.5 1459,687 1461.5,687.5 1464,688.1 1466.5,688.6 1469,689.1 1471.5,689.6 1474,690.1 1476.5,690.6 1479,691 1481.5,691.5 1484,691.9 1486.5,692.4 1489,692.8 1491.5,693.2 1494,693.6 1496.5,694 1499,694.4 1501.5,694.8 1504,695.2 1506.5,695.6 1509,695.9 1511.5,696.3 1514,696.6 1516.5,696.9 1519,697.3 1521.5,697.6 1524,697.9 1526.5,698.2 1529,698.5 1531.5,698.7 1534,699 1536.5,699.3 1539,699.6 1541.5,699.8 1544,700.1 1546.5,700.3 1549,700.5 1551.5,700.8 1554,701 1556.5,701.2 1559,701.4 1561.5,701.6 1564,701.8 1566.5,702 1569,702.2 1571.5,702.4 1574,702.5 1576.5,702.7 1579,702.9 1581.5,703 1584,703.2 1586.5,703.3 1589,703.5 1591.5,703.6 1594,703.7 1596.5,703.9 1599,704 1601.5,704.1 1604,704.3 1606.5,704.4 1609,704.5 1611.5,704.6 1614,704.7 1616.5,704.8 1619,704.9 1621.5,705 1624,705.1 1626.5,705.2 1629,705.3 1631.5,705.3 1634,705.4 1636.5,705.5 1639,705.6 1641.5,705.7 1644,705.7 1646.5,705.8 1649,705.9 1651.5,705.9 1654,706 1656.5,706.1 1659,706.1 1661.5,706.2 1664,706.2 1666.5,706.3 1669,706.3 1671.5,706.4 1674,706.4 1676.5,706.5 1679,706.5 1681.5,706.6 1684,706.6 1686.5,706.7 1689,706.7 1691.5,706.8 1694,706.8 1696.5,706.8 1699,706.9 1701.5,706.9 1704,706.9 1706.5,707 1709,707 1711.5,707 1714,707.1" stroke="#ef4a54" stroke-width="2.1"/>
<polyline points="199,706.2 201.5,706.3 204,706.3 206.5,706.3 209,706.3 211.5,706.3 214,706.3 216.5,706.3 219,706.3 221.5,706.3 224,706.3 226.5,706.3 229,706.3 231.5,706.3 234,706.3 236.5,706.3 239,706.3 241.5,706.3 244,706.3 246.5,706.3 249,706.3 251.5,706.3 254,706.3 256.5,706.3 259,706.3 261.5,706.3 264,706.3 266.5,706.3 269,706.3 271.5,706.3 274,706.3 276.5,706.3 279,706.3 281.5,706.3 284,706.3 286.5,706.3 289,706.3 291.5,706.3 294,706.3 296.5,706.3 299,706.3 301.5,706.3 304,706.3 306.5,706.3 309,706.3 311.5,706.3 314,706.3 316.5,706.3 319,706.3 321.5,706.3 324,706.4 326.5,706.4 329,706.4 331.5,706.4 334,706.4 336.5,706.4 339,706.4 341.5,706.4 344,706.4 346.5,706.4 349,706.4 351.5,706.4 354,706.4 356.5,706.4 359,706.4 361.5,706.4 364,706.4 366.5,706.4 369,706.4 371.5,706.4 374,706.4 376.5,706.4 379,706.4 381.5,706.4 384,706.4 386.5,706.4 389,706.4 391.5,706.4 394,706.4 396.5,706.4 399,706.4 401.5,706.4 404,706.4 406.5,706.4 409,706.4 411.5,706.4 414,706.4 416.5,706.4 419,706.4 421.5,706.4 424,706.4 426.5,706.4 429,706.4 431.5,706.4 434,706.4 436.5,706.4 439,706.4 441.5,706.4 444,706.4 446.5,706.4 449,706.4 451.5,706.4 454,706.4 456.5,706.4 459,706.4 461.5,706.4 464,706.4 466.5,706.4 469,706.4 471.5,706.4 474,706.4 476.5,706.4 479,706.4 481.5,706.4 484,706.4 486.5,706.4 489,706.4 491.5,706.4 494,706.4 496.5,706.4 499,706.4 501.5,706.4 504,706.4 506.5,706.4 509,706.4 511.5,706.4 514,706.4 516.5,706.4 519,706.4 521.5,706.4 524,706.4 526.5,706.4 529,706.4 531.5,706.4 534,706.4 536.5,706.4 539,706.4 541.5,706.4 544,706.4 546.5,706.4 549,706.4 551.5,706.4 554,706.4 556.5,706.4 559,706.4 561.5,706.3 564,706.3 566.5,706.3 569,706.3 571.5,706.3 574,706.3 576.5,706.3 579,706.3 581.5,706.3 584,706.3 586.5,706.3 589,706.3 591.5,706.3 594,706.3 596.5,706.3 599,706.3 601.5,706.3 604,706.3 606.5,706.2 609,706.2 611.5,706.2 614,706.2 616.5,706.2 619,706.2 621.5,706.1 624,706.1 626.5,706.1 629,706 631.5,706 634,705.9 636.5,705.9 639,705.8 641.5,705.7 644,705.7 646.5,705.6 649,705.5 651.5,705.4 654,705.2 656.5,705.1 659,705 661.5,704.8 664,704.7 666.5,704.5 669,704.3 671.5,704.1 674,703.9 676.5,703.7 679,703.5 681.5,703.3 684,703.1 686.5,702.8 689,702.6 691.5,702.3 694,702 696.5,701.7 699,701.4 701.5,701.1 704,700.8 706.5,700.4 709,700 711.5,699.6 714,699.2 716.5,698.8 719,698.3 721.5,697.9 724,697.4 726.5,696.9 729,696.4 731.5,696 734,695.5 736.5,695 739,694.6 741.5,694.2 744,693.9 746.5,693.6 749,693.3 751.5,693.1 754,693 756.5,692.9 759,692.9 761.5,693 764,693.1 766.5,693.3 769,693.5 771.5,693.8 774,694.1 776.5,694.5 779,694.8 781.5,695.2 784,695.6 786.5,696 789,696.4 791.5,696.8 794,697.1 796.5,697.4 799,697.6 801.5,697.8 804,697.9 806.5,697.9 809,697.9 811.5,697.8 814,697.5 816.5,697.2 819,696.8 821.5,696.2 824,695.6 826.5,694.9 829,694.1 831.5,693.2 834,692.3 836.5,691.4 839,690.5 841.5,689.6 844,688.7 846.5,687.9 849,687.1 851.5,686.5 854,685.9 856.5,685.5 859,685.1 861.5,684.9 864,684.7 866.5,684.5 869,684.4 871.5,684.3 874,684.1 876.5,684 879,683.8 881.5,683.5 884,683.2 886.5,682.8 889,682.3 891.5,681.7 894,681.1 896.5,680.4 899,679.6 901.5,678.8 904,677.9 906.5,677 909,676.1 911.5,675.1 914,674.1 916.5,673.1 919,672.1 921.5,671.1 924,670 926.5,669 929,667.9 931.5,666.9 934,665.8 936.5,664.8 939,663.7 941.5,662.7 944,661.7 946.5,660.7 949,659.7 951.5,658.7 954,657.7 956.5,656.8 959,655.9 961.5,655 964,654.1 966.5,653.2 969,652.4 971.5,651.6 974,650.8 976.5,650 979,649.3 981.5,648.6 984,647.9 986.5,647.3 989,646.7 991.5,646.1 994,645.6 996.5,645.1 999,644.6 1001.5,644.2 1004,643.8 1006.5,643.5 1009,643.1 1011.5,642.8 1014,642.6 1016.5,642.3 1019,642.1 1021.5,641.8 1024,641.6 1026.5,641.5 1029,641.3 1031.5,641.1 1034,641 1036.5,640.8 1039,640.7 1041.5,640.5 1044,640.4 1046.5,640.2 1049,640.1 1051.5,639.9 1054,639.8 1056.5,639.6 1059,639.4 1061.5,639.2 1064,639 1066.5,638.8 1069,638.5 1071.5,638.3 1074,638 1076.5,637.7 1079,637.4 1081.5,637.1 1084,636.8 1086.5,636.5 1089,636.1 1091.5,635.7 1094,635.4 1096.5,635 1099,634.6 1101.5,634.1 1104,633.7 1106.5,633.3 1109,632.8 1111.5,632.4 1114,632 1116.5,631.5 1119,631 1121.5,630.6 1124,630.1 1126.5,629.7 1129,629.2 1131.5,628.7 1134,628.3 1136.5,627.8 1139,627.4 1141.5,627 1144,626.5 1146.5,626.1 1149,625.7 1151.5,625.3 1154,624.9 1156.5,624.5 1159,624.2 1161.5,623.8 1164,623.5 1166.5,623.1 1169,622.8 1171.5,622.4 1174,622.1 1176.5,621.8 1179,621.4 1181.5,621.1 1184,620.8 1186.5,620.5 1189,620.1 1191.5,619.8 1194,619.4 1196.5,619.1 1199,618.7 1201.5,618.4 1204,618 1206.5,617.7 1209,617.4 1211.5,617.1 1214,616.8 1216.5,616.6 1219,616.4 1221.5,616.3 1224,616.2 1226.5,616.2 1229,616.2 1231.5,616.4 1234,616.6 1236.5,616.9 1239,617.3 1241.5,617.7 1244,618.2 1246.5,618.7 1249,619.2 1251.5,619.8 1254,620.4 1256.5,621.1 1259,621.8 1261.5,622.5 1264,623.3 1266.5,624.1 1269,624.9 1271.5,625.8 1274,626.7 1276.5,627.5 1279,628.4 1281.5,629.4 1284,630.3 1286.5,631.2 1289,632.2 1291.5,633.1 1294,634.1 1296.5,635 1299,636 1301.5,636.9 1304,637.9 1306.5,638.8 1309,639.8 1311.5,640.7 1314,641.7 1316.5,642.6 1319,643.5 1321.5,644.5 1324,645.4 1326.5,646.3 1329,647.2 1331.5,648.1 1334,649.1 1336.5,650 1339,650.9 1341.5,651.8 1344,652.7 1346.5,653.5 1349,654.4 1351.5,655.3 1354,656.2 1356.5,657.1 1359,657.9 1361.5,658.8 1364,659.7 1366.5,660.5 1369,661.4 1371.5,662.2 1374,663.1 1376.5,663.9 1379,664.7 1381.5,665.5 1384,666.4 1386.5,667.2 1389,668 1391.5,668.8 1394,669.6 1396.5,670.3 1399,671.1 1401.5,671.9 1404,672.6 1406.5,673.4 1409,674.1 1411.5,674.9 1414,675.6 1416.5,676.3 1419,677 1421.5,677.7 1424,678.4 1426.5,679.1 1429,679.7 1431.5,680.4 1434,681.1 1436.5,681.7 1439,682.3 1441.5,682.9 1444,683.6 1446.5,684.2 1449,684.7 1451.5,685.3 1454,685.9 1456.5,686.5 1459,687 1461.5,687.5 1464,688.1 1466.5,688.6 1469,689.1 1471.5,689.6 1474,690.1 1476.5,690.6 1479,691 1481.5,691.5 1484,691.9 1486.5,692.4 1489,692.8 1491.5,693.2 1494,693.6 1496.5,694 1499,694.4 1501.5,694.8 1504,695.2 1506.5,695.6 1509,695.9 1511.5,696.3 1514,696.6 1516.5,696.9 1519,697.3 1521.5,697.6 1524,697.9 1526.5,698.2 1529,698.5 1531.5,698.7 1534,699 1536.5,699.3 1539,699.6 1541.5,699.8 1544,700.1 1546.5,700.3 1549,700.5 1551.5,700.8 1554,701 1556.5,701.2 1559,701.4 1561.5,701.6 1564,701.8 1566.5,702 1569,702.2 1571.5,702.4 1574,702.5 1576.5,702.7 1579,702.9 1581.5,703 1584,703.2 1586.5,703.3 1589,703.5 1591.5,703.6 1594,703.7 1596.5,703.9 1599,704 1601.5,704.1 1604,704.3 1606.5,704.4 1609,704.5 1611.5,704.6 1614,704.7 1616.5,704.8 1619,704.9 1621.5,705 1624,705.1 1626.5,705.2 1629,705.3 1631.5,705.3 1634,705.4 1636.5,705.5 1639,705.6 1641.5,705.7 1644,705.7 1646.5,705.8 1649,705.9 1651.5,705.9 1654,706 1656.5,706.1 1659,706.1 1661.5,706.2 1664,706.2 1666.5,706.3 1669,706.3 1671.5,706.4 1674,706.4 1676.5,706.5 1679,706.5 1681.5,706.6 1684,706.6 1686.5,706.7 1689,706.7 1691.5,706.8 1694,706.8 1696.5,706.8 1699,706.9 1701.5,706.9 1704,706.9 1706.5,707 1709,707 1711.5,707 1714,707.1" stroke="#ef4a54" stroke-width="2.1"/>
</g>
<g fill="none" stroke-linejoin="round">
<polyline points="401.5,963.6 404,963.6 406.5,963.6 409,963.6 411.5,963.6 414,963.6 416.5,963.6 419,963.6 421.5,963.6 424,963.6 426.5,963.7 429,963.7 431.5,963.7 434,963.7 436.5,963.7 439,963.7 441.5,963.7 444,963.7 446.5,963.7 449,963.7 451.5,963.7 454,963.7 456.5,963.7 459,963.7 461.5,963.7 464,963.7 466.5,963.7 469,963.7 471.5,963.7 474,963.7 476.5,963.8 479,963.8 481.5,963.8 484,963.8 486.5,963.8 489,963.8 491.5,963.8 494,963.8 496.5,963.8 499,963.8 501.5,963.8 504,963.8 506.5,963.8 509,963.8 511.5,963.8 514,963.8 516.5,963.8 519,963.8 521.5,963.8 524,963.8 526.5,963.9 529,963.9 531.5,963.9 534,963.9 536.5,963.9 539,963.9 541.5,963.9 544,963.9 546.5,963.9 549,963.9 551.5,963.9 554,963.9 556.5,963.9 559,963.9 561.5,963.9 564,963.9 566.5,963.9 569,963.9 571.5,963.9 574,963.9 576.5,964 579,964 581.5,964 584,964 586.5,964 589,964 591.5,964 594,964 596.5,964 599,964 601.5,964 604,964 606.5,964 609,964 611.5,964 614,964 616.5,964 619,964 621.5,964 624,964 626.5,964.1 629,964.1 631.5,964.1 634,964.1 636.5,964.1 639,964.1 641.5,964.1 644,964.1 646.5,964.1 649,964.1 651.5,964.1 654,964.1 656.5,964.1 659,964.1 661.5,964.1 664,964.1 666.5,964.1 669,964.1 671.5,964.1 674,964.1 676.5,964.2 679,964.2 681.5,964.2 684,964.2 686.5,964.2 689,964.2 691.5,964.2 694,964.2 696.5,964.2 699,964.2 701.5,964.2 704,964.2 706.5,964.2 709,964.2 711.5,964.2 714,964.2 716.5,964.2 719,964.2 721.5,964.2 724,964.2 726.5,964.3 729,964.3 731.5,964.3 734,964.3 736.5,964.3 739,964.3 741.5,964.3 744,964.3 746.5,964.3 749,964.3 751.5,964.3 754,964.3 756.5,964.3 759,964.3 761.5,964.3 764,964.3 766.5,964.3 769,964.3 771.5,964.3 774,964.3 776.5,964.4 779,964.4 781.5,964.4 784,964.4 786.5,964.4 789,964.4 791.5,964.4 794,964.4 796.5,964.4 799,964.4 801.5,964.4 804,964.4 806.5,964.4 809,964.4 811.5,964.4 814,964.4 816.5,964.4 819,964.4 821.5,964.4 824,964.4 826.5,964.5 829,964.5 831.5,964.5 834,964.5 836.5,964.5 839,964.5 841.5,964.5 844,964.5 846.5,964.5 849,964.5 851.5,964.5 854,964.5 856.5,964.5 859,964.5 861.5,964.5 864,964.5 866.5,964.5 869,964.5 871.5,964.5 874,964.5 876.5,964.6 879,964.6 881.5,964.6 884,964.6 886.5,964.6 889,964.6 891.5,964.6 894,964.6 896.5,964.6 899,964.6 901.5,964.6 904,964.6 906.5,964.6 909,964.6 911.5,964.6 914,964.6 916.5,964.6 919,964.6 921.5,964.6 924,964.6 926.5,964.7 929,964.7 931.5,964.7 934,964.7 936.5,964.7 939,964.7 941.5,964.7 944,964.7 946.5,964.7 949,964.7 951.5,964.7 954,964.7 956.5,964.7 959,964.7 961.5,964.7 964,964.7 966.5,964.7 969,964.7 971.5,964.7 974,964.7 976.5,964.8 979,964.8 981.5,964.8 984,964.8 986.5,964.8 989,964.8 991.5,964.8 994,964.8 996.5,964.8 999,964.8 1001.5,964.8 1004,964.8 1006.5,964.8 1009,964.8 1011.5,964.8 1014,964.8 1016.5,964.8 1019,964.8 1021.5,964.8 1024,964.8 1026.5,964.9 1029,964.9 1031.5,964.9 1034,964.9 1036.5,964.9 1039,964.9 1041.5,964.9 1044,964.9 1046.5,964.9 1049,964.9 1051.5,964.9 1054,964.9 1056.5,964.9 1059,964.9 1061.5,964.9 1064,964.9 1066.5,964.9 1069,964.9 1071.5,964.9 1074,964.9 1076.5,965 1079,965 1081.5,965 1084,965 1086.5,965 1089,965 1091.5,965 1094,965 1096.5,965 1099,965 1101.5,965 1104,965 1106.5,965 1109,965 1111.5,965 1114,965 1116.5,965 1119,965 1121.5,965 1124,965 1126.5,965.1 1129,965.1 1131.5,965.1 1134,965.1 1136.5,965.1 1139,965.1 1141.5,965.1 1144,965.1 1146.5,965.1 1149,965.1 1151.5,965.1 1154,965.1 1156.5,965.1 1159,965.1 1161.5,965.1 1164,965.1 1166.5,965.1 1169,965.1 1171.5,965.1 1174,965.1 1176.5,965.2 1179,965.2 1181.5,965.2 1184,965.2 1186.5,965.2 1189,965.2 1191.5,965.2 1194,965.2 1196.5,965.2 1199,965.2 1201.5,965.2 1204,965.2 1206.5,965.2 1209,965.2 1211.5,965.2 1214,965.2 1216.5,965.2 1219,965.2 1221.5,965.2 1224,965.2 1226.5,965.3 1229,965.3 1231.5,965.3 1234,965.3 1236.5,965.3 1239,965.3 1241.5,965.3 1244,965.3 1246.5,965.3 1249,965.3 1251.5,965.3 1254,965.3 1256.5,965.3 1259,965.3 1261.5,965.3 1264,965.3 1266.5,965.3 1269,965.3 1271.5,965.3 1274,965.3 1276.5,965.4 1279,965.4 1281.5,965.4 1284,965.4 1286.5,965.4 1289,965.4 1291.5,965.4 1294,965.4 1296.5,965.4 1299,965.4 1301.5,965.4 1304,965.4 1306.5,965.4 1309,965.4 1311.5,965.4 1314,965.4 1316.5,965.4 1319,965.4 1321.5,965.4 1324,965.4 1326.5,965.5 1329,965.5 1331.5,965.5 1334,965.5 1336.5,965.5 1339,965.5 1341.5,965.5 1344,965.5 1346.5,965.5 1349,965.5 1351.5,965.5 1354,965.5 1356.5,965.5 1359,965.5 1361.5,965.5 1364,965.5 1366.5,965.5 1369,965.5 1371.5,965.5 1374,965.5 1376.5,965.6 1379,965.6 1381.5,965.6 1384,965.6 1386.5,965.6 1389,965.6 1391.5,965.6 1394,965.6 1396.5,965.6 1399,965.6 1401.5,965.6 1404,965.6 1406.5,965.6 1409,965.6 1411.5,965.6 1414,965.6 1416.5,965.6 1419,965.6 1421.5,965.6 1424,965.6 1426.5,965.7 1429,965.7 1431.5,965.7 1434,965.7 1436.5,965.7 1439,965.7 1441.5,965.7 1444,965.7 1446.5,965.7 1449,965.7 1451.5,965.7 1454,965.7 1456.5,965.7 1459,965.7 1461.5,965.7 1464,965.7 1466.5,965.7 1469,965.7 1471.5,965.7 1474,965.7 1476.5,965.8 1479,965.8 1481.5,965.8 1484,965.8 1486.5,965.8 1489,965.8 1491.5,965.8 1494,965.8 1496.5,965.8 1499,965.8 1501.5,965.8 1504,965.8 1506.5,965.8 1509,965.8 1511.5,965.8 1514,965.8 1516.5,965.8 1519,965.8 1521.5,965.8 1524,965.8 1526.5,965.9 1529,965.9 1531.5,965.9 1534,965.9 1536.5,965.9 1539,965.9 1541.5,965.9 1544,965.9 1546.5,965.9 1549,965.9 1551.5,965.9 1554,965.9 1556.5,965.9 1559,965.9 1561.5,965.9 1564,965.9 1566.5,965.9 1569,965.9 1571.5,965.9 1574,965.9 1576.5,966 1579,966 1581.5,966 1584,966 1586.5,966 1589,966 1591.5,966 1594,966" stroke="#a0d45c" stroke-width="2.8"/>
<polyline points="619,963.5 621.5,963.5 624,963.4 626.5,963.4 629,963.4 631.5,963.3 634,963.3 636.5,963.2 639,963.2 641.5,963.1 644,963.1 646.5,963 649,963 651.5,962.9 654,962.8 656.5,962.8 659,962.7 661.5,962.6 664,962.6 666.5,962.5 669,962.4 671.5,962.3 674,962.3 676.5,962.2 679,962.1 681.5,962 684,961.9 686.5,961.9 689,961.8 691.5,961.7 694,961.6 696.5,961.5 699,961.5 701.5,961.4 704,961.3 706.5,961.2 709,961.2 711.5,961.1 714,961 716.5,960.9 719,960.9 721.5,960.8 724,960.7 726.5,960.7 729,960.6 731.5,960.6 734,960.5 736.5,960.5 739,960.5 741.5,960.4 744,960.4 746.5,960.4 749,960.3 751.5,960.3 754,960.3 756.5,960.3 759,960.3 761.5,960.3 764,960.3 766.5,960.4 769,960.4 771.5,960.4 774,960.4 776.5,960.5 779,960.5 781.5,960.5 784,960.6 786.5,960.6 789,960.7 791.5,960.8 794,960.8 796.5,960.9 799,961 801.5,961 804,961.1 806.5,961.2 809,961.3 811.5,961.4 814,961.5 816.5,961.5 819,961.6 821.5,961.7 824,961.8 826.5,961.9 829,962 831.5,962.1 834,962.2 836.5,962.3 839,962.4 841.5,962.5 844,962.5 846.5,962.6 849,962.7 851.5,962.8 854,962.9 856.5,963 859,963 861.5,963.1 864,963.2 866.5,963.3 869,963.3 871.5,963.4 874,963.5 876.5,963.6 879,963.6 881.5,963.7 884,963.7 886.5,963.8 889,963.8 891.5,963.9 894,963.9 896.5,964 899,964 901.5,964.1" stroke="#32b052" stroke-width="2.1"/>
<polyline points="621.5,963.4 624,963.3 626.5,963.2 629,963 631.5,962.8 634,962.5 636.5,962.3 639,962 641.5,961.7 644,961.3 646.5,961 649,960.6 651.5,960.2 654,959.8 656.5,959.3 659,958.9 661.5,958.5 664,958.1 666.5,957.7 669,957.3 671.5,957 674,956.7 676.5,956.5 679,956.3 681.5,956.2 684,956.2 686.5,956.2 689,956.3 691.5,956.4 694,956.6 696.5,956.8 699,957.1 701.5,957.5 704,957.9 706.5,958.3 709,958.7 711.5,959.1 714,959.5 716.5,960 719,960.4 721.5,960.8 724,961.2 726.5,961.6 729,961.9 731.5,962.2 734,962.5 736.5,962.8 739,963 741.5,963.2 744,963.4 746.5,963.6 749,963.7" stroke="#b45fd2" stroke-width="2.1"/>
<polyline points="754,963.7 756.5,963.7 759,963.6 761.5,963.5 764,963.4 766.5,963.2 769,963.1 771.5,963 774,962.8 776.5,962.6 779,962.4 781.5,962.2 784,962 786.5,961.8 789,961.5 791.5,961.2 794,960.9 796.5,960.6 799,960.3 801.5,960 804,959.6 806.5,959.3 809,958.9 811.5,958.5 814,958.1 816.5,957.7 819,957.3 821.5,956.9 824,956.5 826.5,956.1 829,955.7 831.5,955.4 834,955 836.5,954.7 839,954.3 841.5,954 844,953.7 846.5,953.5 849,953.2 851.5,953 854,952.9 856.5,952.7 859,952.6 861.5,952.6 864,952.5 866.5,952.5 869,952.6 871.5,952.7 874,952.8 876.5,952.9 879,953.1 881.5,953.3 884,953.6 886.5,953.9 889,954.2 891.5,954.5 894,954.8 896.5,955.2 899,955.6 901.5,956 904,956.4 906.5,956.8 909,957.2 911.5,957.6 914,958 916.5,958.4 919,958.8 921.5,959.2 924,959.6 926.5,959.9 929,960.3 931.5,960.6 934,961 936.5,961.3 939,961.6 941.5,961.9 944,962.1 946.5,962.4 949,962.6 951.5,962.8 954,963 956.5,963.2 959,963.4 961.5,963.5 964,963.7 966.5,963.8 969,963.9 971.5,964 974,964.1 976.5,964.2" stroke="#2a8f6a" stroke-width="2.1"/>
<polyline points="834,964 836.5,963.9 839,963.8 841.5,963.8 844,963.7 846.5,963.6 849,963.5 851.5,963.4 854,963.2 856.5,963.1 859,963 861.5,962.8 864,962.6 866.5,962.4 869,962.2 871.5,962 874,961.8 876.5,961.5 879,961.3 881.5,961 884,960.7 886.5,960.3 889,960 891.5,959.6 894,959.2 896.5,958.8 899,958.4 901.5,957.9 904,957.4 906.5,957 909,956.4 911.5,955.9 914,955.4 916.5,954.8 919,954.2 921.5,953.6 924,953 926.5,952.4 929,951.7 931.5,951.1 934,950.4 936.5,949.8 939,949.1 941.5,948.5 944,947.8 946.5,947.2 949,946.6 951.5,945.9 954,945.3 956.5,944.7 959,944.2 961.5,943.6 964,943.1 966.5,942.6 969,942.1 971.5,941.7 974,941.3 976.5,940.9 979,940.6 981.5,940.3 984,940.1 986.5,939.9 989,939.8 991.5,939.7 994,939.6 996.5,939.6 999,939.6 1001.5,939.7 1004,939.9 1006.5,940.1 1009,940.4 1011.5,940.7 1014,941.1 1016.5,941.5 1019,942 1021.5,942.5 1024,943 1026.5,943.6 1029,944.3 1031.5,944.9 1034,945.6 1036.5,946.3 1039,947 1041.5,947.7 1044,948.4 1046.5,949.2 1049,949.9 1051.5,950.6 1054,951.4 1056.5,952.1 1059,952.8 1061.5,953.5 1064,954.2 1066.5,954.9 1069,955.5 1071.5,956.2 1074,956.8 1076.5,957.3 1079,957.9 1081.5,958.4 1084,958.9 1086.5,959.4 1089,959.9 1091.5,960.3 1094,960.7 1096.5,961.1 1099,961.5 1101.5,961.8 1104,962.1 1106.5,962.4 1109,962.6 1111.5,962.9 1114,963.1 1116.5,963.3 1119,963.5 1121.5,963.7 1124,963.8 1126.5,964 1129,964.1 1131.5,964.2 1134,964.3 1136.5,964.4 1139,964.5 1141.5,964.6" stroke="#3d84e6" stroke-width="2.1"/>
<polyline points="809,963.9 811.5,963.9 814,963.8 816.5,963.8 819,963.8 821.5,963.7 824,963.7 826.5,963.6 829,963.6 831.5,963.5 834,963.5 836.5,963.4 839,963.4 841.5,963.3 844,963.2 846.5,963.2 849,963.1 851.5,963 854,962.9 856.5,962.8 859,962.7 861.5,962.6 864,962.5 866.5,962.4 869,962.3 871.5,962.2 874,962.1 876.5,961.9 879,961.8 881.5,961.6 884,961.5 886.5,961.3 889,961.2 891.5,961 894,960.8 896.5,960.6 899,960.4 901.5,960.2 904,960 906.5,959.7 909,959.5 911.5,959.2 914,959 916.5,958.7 919,958.4 921.5,958.1 924,957.8 926.5,957.5 929,957.2 931.5,956.8 934,956.5 936.5,956.1 939,955.7 941.5,955.3 944,954.9 946.5,954.5 949,954.1 951.5,953.6 954,953.1 956.5,952.7 959,952.2 961.5,951.6 964,951.1 966.5,950.6 969,950 971.5,949.4 974,948.8 976.5,948.2 979,947.6 981.5,947 984,946.3 986.5,945.6 989,944.9 991.5,944.2 994,943.5 996.5,942.7 999,942 1001.5,941.2 1004,940.4 1006.5,939.6 1009,938.7 1011.5,937.9 1014,937 1016.5,936.2 1019,935.3 1021.5,934.3 1024,933.4 1026.5,932.5 1029,931.5 1031.5,930.5 1034,929.6 1036.5,928.6 1039,927.5 1041.5,926.5 1044,925.5 1046.5,924.4 1049,923.4 1051.5,922.3 1054,921.2 1056.5,920.1 1059,919 1061.5,917.9 1064,916.8 1066.5,915.7 1069,914.6 1071.5,913.5 1074,912.3 1076.5,911.2 1079,910 1081.5,908.9 1084,907.8 1086.5,906.6 1089,905.5 1091.5,904.3 1094,903 1096.5,901.8 1099,900.6 1101.5,899.4 1104,898.2 1106.5,897.1 1109,896 1111.5,894.9 1114,893.8 1116.5,892.8 1119,891.7 1121.5,890.7 1124,889.6 1126.5,888.5 1129,887.4 1131.5,886.3 1134,885.2 1136.5,884.1 1139,883 1141.5,881.9 1144,880.9 1146.5,880 1149,879.2 1151.5,878.5 1154,877.8 1156.5,877.3 1159,876.7 1161.5,876.2 1164,875.7 1166.5,875.3 1169,874.9" stroke="#ef4a54" stroke-width="2.1"/>
<polyline points="199,964.3 201.5,964.6 204,964.6 206.5,964.4 209,964.5 211.5,964.5 214,964.1 216.5,963.4 219,962.7 221.5,962.3 224,962.1 226.5,961.8 229,961.3 231.5,960.8 234,960.7 236.5,961 239,961.6 241.5,962.2 244,962.8 246.5,963.1 249,963.2 251.5,963.1 254,962.6 256.5,961.9 259,961.3 261.5,960.9 264,961 266.5,961.6 269,962.5 271.5,963 274,963.2 276.5,963.2 279,963 281.5,962.7 284,962.4 286.5,962 289,961.9 291.5,962.1 294,962.3 296.5,962.4 299,962.6 301.5,962.7 304,962.7 306.5,962.3 309,961.3 311.5,960.6 314,960.6 316.5,961.1 319,961.5 321.5,961.6 324,961.7 326.5,962 329,962.8 331.5,963.4 334,963.3 336.5,962.8 339,962.3 341.5,962.2 344,962.8 346.5,963.4 349,963.7 351.5,963.4 354,962.6 356.5,961.5 359,960.7 361.5,960.5 364,960.8 366.5,961.3 369,962 371.5,962.4 374,962.3 376.5,961.9 379,961.6 381.5,961.6 384,961.9 386.5,962.3 389,962.3 391.5,962 394,961.5 396.5,961.1 399,960.9 401.5,960.7 404,960.6 406.5,960.9 409,961.1 411.5,961.2 414,961.6 416.5,962.1 419,962.8 421.5,963.4 424,963.3 426.5,962.2 429,961.2 431.5,960.9 434,961.5 436.5,962.4 439,962.9 441.5,962.5 444,961.6 446.5,960.8 449,960.5 451.5,960.7 454,961.3 456.5,962.2 459,962.5 461.5,962.4 464,962.1 466.5,961.9 469,962 471.5,962.3 474,962.5 476.5,962.1 479,961.7 481.5,961.3 484,960.9 486.5,960.4 489,960.1 491.5,960.1 494,960.4 496.5,961.2 499,962 501.5,962.8 504,963.4 506.5,963.5 509,963.1 511.5,962.3 514,961.6 516.5,961 519,960.5 521.5,959.7 524,958.8 526.5,958.2 529,958.1 531.5,958.2 534,958.5 536.5,958.8 539,959.2 541.5,959.7 544,960.1 546.5,960.4 549,960.4 551.5,960.2 554,959.8 556.5,959.5 559,959.4 561.5,959.3 564,959 566.5,958.6 569,958.3 571.5,958.6 574,959.1 576.5,959.5 579,959.5 581.5,959.2 584,958.9 586.5,958.6 589,958.3 591.5,958.2 594,958.2 596.5,958 599,957.6 601.5,956.9 604,956.2 606.5,956.1 609,956.7 611.5,957.8 614,958.6 616.5,959.3 619,959.6 621.5,959.3 624,958.5 626.5,957.8 629,957.7 631.5,958.3 634,959.3 636.5,960.2 639,960.3 641.5,959.6 644,958.6 646.5,957.7 649,957.4 651.5,957.3 654,957 656.5,956.5 659,955.9 661.5,955.7 664,955.8 666.5,956.2 669,956.4 671.5,956.3 674,956.2 676.5,956.2 679,956.3 681.5,956.3 684,956.4 686.5,956.3 689,956.3 691.5,956.4 694,956.5 696.5,956.3 699,955.7 701.5,954.8 704,954.2 706.5,954.2 709,954.7 711.5,955.4 714,955.6 716.5,955.4 719,955.2 721.5,955.3 724,955.5 726.5,955.4 729,955.1 731.5,954.6 734,954.2 736.5,953.9 739,953.7 741.5,953.6 744,953.9 746.5,954.7 749,955.4 751.5,955.4 754,954.7 756.5,953.5 759,952.7 761.5,952.7 764,953.2 766.5,953.8 769,954 771.5,954.2 774,954.4 776.5,954.5 779,954.2 781.5,953.2 784,951.8 786.5,950.5 789,949.9 791.5,950.1 794,950.8 796.5,951.4 799,951.6 801.5,951.4 804,951 806.5,950.6 809,950.7 811.5,950.9 814,951.1 816.5,951.3 819,951.4 821.5,951.3 824,951.3 826.5,951.3 829,951.2 831.5,950.9 834,950.3 836.5,949.4 839,948.6 841.5,948 844,947.6 846.5,947.5 849,947.7 851.5,948.1 854,948.5 856.5,948.7 859,948.7 861.5,948.3 864,947.9 866.5,947.9 869,948.3 871.5,948.6 874,948.6 876.5,948 879,946.9 881.5,945.7 884,945 886.5,944.7 889,944.7 891.5,944.7 894,944.4 896.5,943.8 899,943 901.5,942.3 904,941.6 906.5,941 909,940.5 911.5,940.2 914,940 916.5,940 919,940.1 921.5,940.2 924,939.8 926.5,939.3 929,938.8 931.5,938.4 934,938.2 936.5,937.8 939,937.3 941.5,936.8 944,936.4 946.5,935.9 949,935.3 951.5,934.5 954,933.4 956.5,932.2 959,931.2 961.5,930.4 964,929.8 966.5,929.2 969,928.5 971.5,927.5 974,926.3 976.5,925 979,923.7 981.5,922.5 984,921.5 986.5,920.9 989,920.6 991.5,920.3 994,920 996.5,919.6 999,919 1001.5,918.6 1004,918.5 1006.5,918.7 1009,918.7 1011.5,918.4 1014,917.7 1016.5,916.7 1019,915.9 1021.5,915.6 1024,915.6 1026.5,915.5 1029,915.5 1031.5,915.3 1034,914.8 1036.5,914.1 1039,913.8 1041.5,913.7 1044,913.4 1046.5,912.8 1049,911.6 1051.5,910.3 1054,909.6 1056.5,909.9 1059,910.4 1061.5,910.6 1064,910.4 1066.5,909.8 1069,909.1 1071.5,908.6 1074,908.1 1076.5,907.3 1079,906.2 1081.5,905.2 1084,904.6 1086.5,904 1089,903.3 1091.5,902.6 1094,901.7 1096.5,900.9 1099,900.2 1101.5,899.4 1104,898.3 1106.5,897.2 1109,896.1 1111.5,895 1114,893.6 1116.5,892 1119,890.6 1121.5,889.7 1124,888.9 1126.5,888.3 1129,887.4 1131.5,886.3 1134,885.2 1136.5,884.1 1139,882.8 1141.5,881.7 1144,880.8 1146.5,879.8 1149,878.9 1151.5,878.1 1154,877.1 1156.5,876 1159,875.3 1161.5,874.9 1164,874.8 1166.5,874.7 1169,874.7 1171.5,874.6 1174,874.4 1176.5,873.9 1179,872.9 1181.5,871.9 1184,871.5 1186.5,871.7 1189,872.3 1191.5,872.6 1194,872.8 1196.5,872.6 1199,872.3 1201.5,871.9 1204,871.6 1206.5,871.4 1209,871.5 1211.5,871.8 1214,871.8 1216.5,871.5 1219,871.1 1221.5,870.9 1224,871.1 1226.5,871.6 1229,872 1231.5,871.8 1234,871.5 1236.5,871.7 1239,872.5 1241.5,873.6 1244,874.7 1246.5,875.8 1249,876.7 1251.5,878 1254,879.5 1256.5,881.1 1259,882.5 1261.5,884 1264,885.8 1266.5,887.9 1269,890.4 1271.5,892.9 1274,895 1276.5,896.9 1279,898.5 1281.5,899.9 1284,901.2 1286.5,902.5 1289,904 1291.5,905.9 1294,908.4 1296.5,910.8 1299,912.7 1301.5,914.4 1304,916.2 1306.5,918 1309,919.8 1311.5,921.6 1314,923.5 1316.5,925.6 1319,927.8 1321.5,929.5 1324,930.8 1326.5,932.3 1329,934.1 1331.5,936.1 1334,937.7 1336.5,938.8 1339,939.5 1341.5,940 1344,940.7 1346.5,941.4 1349,942.5 1351.5,943.8 1354,945.2 1356.5,946.4 1359,947.3 1361.5,948.1 1364,948.9 1366.5,950 1369,951.5 1371.5,952.6 1374,953 1376.5,952.8 1379,952.2 1381.5,951.9 1384,951.9 1386.5,952.4 1389,952.9 1391.5,953.4 1394,953.7 1396.5,954 1399,954.4 1401.5,954.8 1404,955.5 1406.5,956.1 1409,956.6 1411.5,957 1414,957.2 1416.5,957.2 1419,957.2 1421.5,957.2 1424,957.4 1426.5,957.8 1429,958.1 1431.5,958.3 1434,958.6 1436.5,959 1439,959.5 1441.5,960 1444,960.2 1446.5,960.1 1449,960 1451.5,960.3 1454,960.4 1456.5,960.2 1459,959.8 1461.5,959.7 1464,960.2 1466.5,961 1469,961.8 1471.5,962 1474,961.6 1476.5,961.2 1479,961.4 1481.5,962.1 1484,962.8 1486.5,963.3 1489,963.6 1491.5,963.7 1494,963.4 1496.5,963.1 1499,962.6 1501.5,962 1504,961.9 1506.5,962.2 1509,962.6 1511.5,962.8 1514,963 1516.5,962.9 1519,962.8 1521.5,962.9 1524,962.8 1526.5,962.7 1529,962.8 1531.5,963.3 1534,963.9 1536.5,964.3 1539,964.3 1541.5,964.1 1544,964 1546.5,964.1 1549,964 1551.5,963.7 1554,963.3 1556.5,963.1 1559,963.3 1561.5,963.7 1564,963.9 1566.5,963.7 1569,963.1 1571.5,962.7 1574,962.8 1576.5,963.4 1579,964.1 1581.5,964.5 1584,964.2 1586.5,963.2 1589,961.9 1591.5,961 1594,960.9 1596.5,961.7 1599,963.1 1601.5,964.2 1604,964.7 1606.5,965 1609,965.1 1611.5,965.1 1614,964.8 1616.5,964.2 1619,963.7 1621.5,963.7 1624,964.5 1626.5,965.5 1629,966.3 1631.5,966.6 1634,966.3 1636.5,965.6 1639,964.7 1641.5,963.9 1644,963.3 1646.5,963.2 1649,963.6 1651.5,963.8 1654,963.8 1656.5,963.7 1659,963.6 1661.5,963.6 1664,963.5 1666.5,963.3 1669,963 1671.5,962.8 1674,962.9 1676.5,963 1679,963.2 1681.5,963.6 1684,963.7 1686.5,963.9 1689,964.2 1691.5,964.5 1694,964.9 1696.5,965.2 1699,965.3 1701.5,965.3 1704,965.3 1706.5,965.1 1709,964.9 1711.5,965 1714,965.1" stroke="#606060" stroke-width="2.1"/>
<polyline points="199,962.6 201.5,962.6 204,962.6 206.5,962.6 209,962.6 211.5,962.6 214,962.6 216.5,962.6 219,962.6 221.5,962.6 224,962.6 226.5,962.6 229,962.6 231.5,962.6 234,962.6 236.5,962.6 239,962.6 241.5,962.6 244,962.6 246.5,962.6 249,962.6 251.5,962.6 254,962.6 256.5,962.6 259,962.6 261.5,962.6 264,962.6 266.5,962.6 269,962.6 271.5,962.6 274,962.6 276.5,962.6 279,962.5 281.5,962.5 284,962.5 286.5,962.5 289,962.5 291.5,962.5 294,962.5 296.5,962.5 299,962.5 301.5,962.5 304,962.5 306.5,962.5 309,962.5 311.5,962.5 314,962.5 316.5,962.5 319,962.5 321.5,962.5 324,962.5 326.5,962.5 329,962.5 331.5,962.5 334,962.5 336.5,962.5 339,962.4 341.5,962.4 344,962.4 346.5,962.4 349,962.4 351.5,962.4 354,962.4 356.5,962.4 359,962.4 361.5,962.4 364,962.4 366.5,962.4 369,962.4 371.5,962.4 374,962.4 376.5,962.4 379,962.4 381.5,962.3 384,962.3 386.5,962.3 389,962.3 391.5,962.3 394,962.3 396.5,962.3 399,962.3 401.5,962.3 404,962.3 406.5,962.3 409,962.3 411.5,962.3 414,962.2 416.5,962.2 419,962.2 421.5,962.2 424,962.2 426.5,962.1 429,962.1 431.5,962.1 434,962.1 436.5,962 439,962 441.5,962 444,961.9 446.5,961.9 449,961.9 451.5,961.8 454,961.8 456.5,961.8 459,961.7 461.5,961.7 464,961.7 466.5,961.6 469,961.6 471.5,961.5 474,961.5 476.5,961.4 479,961.4 481.5,961.3 484,961.3 486.5,961.2 489,961.2 491.5,961.1 494,961.1 496.5,961 499,961 501.5,960.9 504,960.9 506.5,960.8 509,960.8 511.5,960.7 514,960.7 516.5,960.6 519,960.5 521.5,960.5 524,960.4 526.5,960.4 529,960.3 531.5,960.2 534,960.2 536.5,960.1 539,960.1 541.5,960 544,959.9 546.5,959.9 549,959.8 551.5,959.7 554,959.7 556.5,959.6 559,959.6 561.5,959.5 564,959.4 566.5,959.4 569,959.3 571.5,959.2 574,959.2 576.5,959.1 579,959 581.5,959 584,958.9 586.5,958.8 589,958.8 591.5,958.7 594,958.7 596.5,958.6 599,958.5 601.5,958.5 604,958.4 606.5,958.3 609,958.3 611.5,958.2 614,958.1 616.5,958 619,957.9 621.5,957.8 624,957.8 626.5,957.7 629,957.6 631.5,957.5 634,957.4 636.5,957.3 639,957.2 641.5,957.1 644,957 646.5,956.9 649,956.8 651.5,956.7 654,956.6 656.5,956.5 659,956.4 661.5,956.3 664,956.2 666.5,956.1 669,956 671.5,955.9 674,955.9 676.5,955.8 679,955.7 681.5,955.6 684,955.5 686.5,955.4 689,955.3 691.5,955.3 694,955.2 696.5,955.1 699,955 701.5,955 704,954.9 706.5,954.8 709,954.8 711.5,954.7 714,954.7 716.5,954.6 719,954.6 721.5,954.5 724,954.4 726.5,954.4 729,954.3 731.5,954.3 734,954.2 736.5,954.2 739,954.1 741.5,954.1 744,954 746.5,953.9 749,953.9 751.5,953.8 754,953.7 756.5,953.7 759,953.6 761.5,953.5 764,953.4 766.5,953.3 769,953.2 771.5,953.1 774,953 776.5,952.9 779,952.7 781.5,952.6 784,952.5 786.5,952.4 789,952.2 791.5,952.1 794,952 796.5,951.8 799,951.7 801.5,951.6 804,951.4 806.5,951.3 809,951.1 811.5,951 814,950.8 816.5,950.7 819,950.5 821.5,950.3 824,950.2 826.5,950 829,949.8 831.5,949.6 834,949.4 836.5,949.2 839,949 841.5,948.9 844,948.7 846.5,948.4 849,948.2 851.5,948 854,947.8 856.5,947.6 859,947.4 861.5,947.2 864,947 866.5,946.8 869,946.5 871.5,946.3 874,946.1 876.5,945.9 879,945.7 881.5,945.5 884,945.3 886.5,945.1 889,944.9 891.5,944.7 894,944.4 896.5,944.2 899,944 901.5,943.7 904,943.5 906.5,943.2 909,942.9 911.5,942.6 914,942.3 916.5,941.9 919,941.6 921.5,941.2 924,940.8 926.5,940.3 929,939.7 931.5,939.1 934,938.5 936.5,937.8 939,937.1 941.5,936.4 944,935.7 946.5,935 949,934.3 951.5,933.6 954,932.9 956.5,932.2 959,931.4 961.5,930.7 964,929.9 966.5,929.1 969,928.4 971.5,927.6 974,926.8 976.5,926 979,925.2 981.5,924.2 984,923.3 986.5,922.4 989,921.6 991.5,920.8 994,920.3 996.5,919.8 999,919.4 1001.5,919 1004,918.6 1006.5,918.2 1009,917.9 1011.5,917.6 1014,917.3 1016.5,917 1019,916.7 1021.5,916.4 1024,916.1 1026.5,915.8 1029,915.4 1031.5,915.1 1034,914.7 1036.5,914.3 1039,914 1041.5,913.6 1044,913.2 1046.5,912.9 1049,912.5 1051.5,912.1 1054,911.7 1056.5,911.3 1059,910.9 1061.5,910.4 1064,909.9 1066.5,909.4 1069,908.9 1071.5,908.4 1074,907.8 1076.5,907 1079,906.2 1081.5,905.4 1084,904.4 1086.5,903.4 1089,902.4 1091.5,901.4 1094,900.3 1096.5,899.3 1099,898.4 1101.5,897.5 1104,896.5 1106.5,895.6 1109,894.7 1111.5,893.8 1114,892.9 1116.5,892 1119,891.1 1121.5,890.1 1124,889.1 1126.5,888 1129,886.9 1131.5,885.8 1134,884.7 1136.5,883.6 1139,882.6 1141.5,881.6 1144,880.7 1146.5,879.8 1149,879.1 1151.5,878.5 1154,877.8 1156.5,877.3 1159,876.7 1161.5,876.2 1164,875.7 1166.5,875.3 1169,874.9 1171.5,874.4 1174,874 1176.5,873.5 1179,873.1 1181.5,872.8 1184,872.5 1186.5,872.2 1189,872 1191.5,871.9 1194,871.8 1196.5,871.8 1199,871.7 1201.5,871.6 1204,871.6 1206.5,871.5 1209,871.5 1211.5,871.5 1214,871.5 1216.5,871.6 1219,871.7 1221.5,871.9 1224,872 1226.5,872.2 1229,872.4 1231.5,872.7 1234,873 1236.5,873.6 1239,874.2 1241.5,874.9 1244,875.7 1246.5,876.9 1249,878.1 1251.5,879.1 1254,879.9 1256.5,880.6 1259,881.5 1261.5,882.5 1264,883.8 1266.5,885.2 1269,886.8 1271.5,888.5 1274,890.3 1276.5,892 1279,893.8 1281.5,895.6 1284,897.5 1286.5,899.3 1289,901 1291.5,902.5 1294,903.9 1296.5,905.3 1299,906.6 1301.5,907.9 1304,909.1 1306.5,910.3 1309,911.5 1311.5,912.6 1314,913.7 1316.5,914.8 1319,916 1321.5,917.1 1324,918.1 1326.5,919.2 1329,920.2 1331.5,921.2 1334,922.2 1336.5,923.2 1339,924.2 1341.5,925.1 1344,926.1 1346.5,927.1 1349,928.1 1351.5,929.1 1354,930.2 1356.5,931.2 1359,932.4 1361.5,933.5 1364,934.6 1366.5,935.7 1369,936.8 1371.5,937.9 1374,939 1376.5,940 1379,941 1381.5,941.9 1384,942.8 1386.5,943.6 1389,944.3 1391.5,944.9 1394,945.5 1396.5,946 1399,946.5 1401.5,947 1404,947.6 1406.5,948.2 1409,948.8 1411.5,949.5 1414,950.2 1416.5,950.9 1419,951.6 1421.5,952.3 1424,952.9 1426.5,953.6 1429,954.3 1431.5,954.9 1434,955.5 1436.5,956 1439,956.5 1441.5,957 1444,957.5 1446.5,957.9 1449,958.4 1451.5,958.8 1454,959.2 1456.5,959.6 1459,960 1461.5,960.4 1464,960.8 1466.5,961.1 1469,961.4 1471.5,961.7 1474,961.9 1476.5,962.1 1479,962.4 1481.5,962.6 1484,962.8 1486.5,963 1489,963.2 1491.5,963.4 1494,963.5 1496.5,963.7 1499,963.8 1501.5,963.9 1504,964.1 1506.5,964.2 1509,964.2 1511.5,964.3 1514,964.4 1516.5,964.4 1519,964.5 1521.5,964.6 1524,964.6 1526.5,964.7 1529,964.8 1531.5,964.8 1534,964.9 1536.5,964.9 1539,965 1541.5,965 1544,965.1 1546.5,965.1 1549,965.2 1551.5,965.2 1554,965.3 1556.5,965.3 1559,965.3 1561.5,965.4 1564,965.4 1566.5,965.5 1569,965.5 1571.5,965.5 1574,965.6 1576.5,965.6 1579,965.6 1581.5,965.6 1584,965.7 1586.5,965.7 1589,965.7 1591.5,965.7 1594,965.8 1596.5,965.8 1599,965.8 1601.5,965.8 1604,965.8 1606.5,965.8 1609,965.9 1611.5,965.9 1614,965.9 1616.5,965.9 1619,965.9 1621.5,965.9 1624,966 1626.5,966 1629,966 1631.5,966 1634,966 1636.5,966 1639,966.1 1641.5,966.1 1644,966.1 1646.5,966.1 1649,966.1 1651.5,966.1 1654,966.1 1656.5,966.1 1659,966.2 1661.5,966.2 1664,966.2 1666.5,966.2 1669,966.2 1671.5,966.2 1674,966.2 1676.5,966.2 1679,966.2 1681.5,966.2 1684,966.3 1686.5,966.3 1689,966.3 1691.5,966.3 1694,966.3 1696.5,966.3 1699,966.3 1701.5,966.3 1704,966.3 1706.5,966.3 1709,966.3 1711.5,966.3 1714,966.3" stroke="#666666" stroke-width="2.1"/>
</g>
<g fill="none" stroke-linejoin="round">
<polyline points="474,1202 476.5,1202 479,1202 481.5,1202 484,1202 486.5,1202 489,1202 491.5,1202 494,1202 496.5,1202 499,1202 501.5,1202 504,1202 506.5,1202 509,1202 511.5,1202 514,1202 516.5,1202 519,1202 521.5,1202 524,1202 526.5,1202 529,1202 531.5,1202 534,1202 536.5,1202 539,1202 541.5,1202 544,1202 546.5,1202 549,1202 551.5,1202 554,1202 556.5,1202 559,1202 561.5,1202 564,1202 566.5,1202 569,1202 571.5,1202 574,1202 576.5,1202 579,1202 581.5,1202 584,1202 586.5,1202 589,1202 591.5,1202 594,1202 596.5,1202 599,1202 601.5,1202 604,1202 606.5,1202 609,1202 611.5,1202 614,1202 616.5,1202 619,1202 621.5,1202 624,1202 626.5,1202 629,1202 631.5,1202 634,1202 636.5,1202 639,1202 641.5,1202 644,1202 646.5,1202 649,1202 651.5,1202 654,1202 656.5,1202 659,1202 661.5,1202 664,1202 666.5,1202 669,1202 671.5,1202 674,1202 676.5,1202 679,1202 681.5,1202 684,1202 686.5,1202 689,1202 691.5,1202 694,1202 696.5,1202 699,1202 701.5,1202 704,1202 706.5,1202 709,1202 711.5,1202 714,1202 716.5,1202 719,1202 721.5,1202 724,1202 726.5,1202 729,1202 731.5,1202 734,1202 736.5,1202 739,1202 741.5,1202 744,1202 746.5,1202 749,1202 751.5,1202 754,1202 756.5,1202 759,1202 761.5,1202 764,1202 766.5,1202 769,1202 771.5,1202 774,1202 776.5,1202 779,1202 781.5,1202 784,1202 786.5,1202 789,1202 791.5,1202 794,1202 796.5,1202 799,1202 801.5,1202 804,1202 806.5,1202 809,1202 811.5,1202 814,1202 816.5,1202 819,1202 821.5,1202 824,1202 826.5,1202 829,1202 831.5,1202 834,1202 836.5,1202 839,1202 841.5,1202 844,1202 846.5,1202 849,1202 851.5,1202 854,1202 856.5,1202 859,1202 861.5,1202 864,1202 866.5,1202 869,1202 871.5,1202 874,1202 876.5,1202 879,1202 881.5,1202 884,1202 886.5,1202 889,1202 891.5,1202 894,1202 896.5,1202 899,1202 901.5,1202 904,1202 906.5,1202 909,1202 911.5,1202 914,1202 916.5,1202 919,1202 921.5,1202 924,1202 926.5,1202 929,1202 931.5,1202 934,1202 936.5,1202 939,1202 941.5,1202 944,1202 946.5,1202 949,1202 951.5,1202 954,1202 956.5,1202 959,1202 961.5,1202 964,1202 966.5,1202 969,1202 971.5,1202 974,1202 976.5,1202 979,1202 981.5,1202 984,1202 986.5,1202 989,1202 991.5,1202 994,1202 996.5,1202 999,1202 1001.5,1202 1004,1202 1006.5,1202 1009,1202 1011.5,1202 1014,1202 1016.5,1202 1019,1202 1021.5,1202 1024,1202 1026.5,1202 1029,1202 1031.5,1202 1034,1202 1036.5,1202 1039,1202 1041.5,1202 1044,1202 1046.5,1202 1049,1202 1051.5,1202 1054,1202 1056.5,1202 1059,1202 1061.5,1202 1064,1202 1066.5,1202 1069,1202 1071.5,1202 1074,1202 1076.5,1202 1079,1202 1081.5,1202 1084,1202 1086.5,1202 1089,1202 1091.5,1202 1094,1202 1096.5,1202 1099,1202 1101.5,1202 1104,1202 1106.5,1202 1109,1202 1111.5,1202 1114,1202 1116.5,1202 1119,1202 1121.5,1202 1124,1202 1126.5,1202 1129,1202 1131.5,1202 1134,1202 1136.5,1202 1139,1202 1141.5,1202 1144,1202 1146.5,1202 1149,1202 1151.5,1202 1154,1202 1156.5,1202 1159,1202 1161.5,1202 1164,1202 1166.5,1202 1169,1202 1171.5,1202 1174,1202 1176.5,1202 1179,1202 1181.5,1202 1184,1202 1186.5,1202 1189,1202 1191.5,1202 1194,1202 1196.5,1202 1199,1202 1201.5,1202 1204,1202 1206.5,1202 1209,1202 1211.5,1202 1214,1202 1216.5,1202 1219,1202 1221.5,1202 1224,1202 1226.5,1202 1229,1202 1231.5,1202 1234,1202 1236.5,1202 1239,1202 1241.5,1202 1244,1202 1246.5,1202 1249,1202 1251.5,1202 1254,1202 1256.5,1202 1259,1202 1261.5,1202 1264,1202 1266.5,1202 1269,1202 1271.5,1202 1274,1202 1276.5,1202 1279,1202 1281.5,1202 1284,1202 1286.5,1202 1289,1202 1291.5,1202 1294,1202 1296.5,1202 1299,1202 1301.5,1202 1304,1202 1306.5,1202 1309,1202 1311.5,1202 1314,1202 1316.5,1202 1319,1202 1321.5,1202 1324,1202 1326.5,1202 1329,1202 1331.5,1202 1334,1202 1336.5,1202 1339,1202 1341.5,1202 1344,1202 1346.5,1202 1349,1202 1351.5,1202 1354,1202 1356.5,1202 1359,1202 1361.5,1202 1364,1202 1366.5,1202 1369,1202 1371.5,1202 1374,1202 1376.5,1202 1379,1202 1381.5,1202 1384,1202 1386.5,1202 1389,1202 1391.5,1202 1394,1202 1396.5,1202 1399,1202 1401.5,1202 1404,1202 1406.5,1202 1409,1202 1411.5,1202 1414,1202 1416.5,1202 1419,1202 1421.5,1202 1424,1202 1426.5,1202 1429,1202 1431.5,1202 1434,1202 1436.5,1202 1439,1202 1441.5,1202 1444,1202 1446.5,1202 1449,1202 1451.5,1202 1454,1202 1456.5,1202 1459,1202 1461.5,1202 1464,1202 1466.5,1202 1469,1202 1471.5,1202 1474,1202 1476.5,1202 1479,1202 1481.5,1202 1484,1202 1486.5,1202 1489,1202 1491.5,1202 1494,1202 1496.5,1202 1499,1202 1501.5,1202 1504,1202 1506.5,1202 1509,1202 1511.5,1202 1514,1202 1516.5,1202 1519,1202 1521.5,1202 1524,1202 1526.5,1202 1529,1202 1531.5,1202 1534,1202 1536.5,1202 1539,1202 1541.5,1202 1544,1202 1546.5,1202 1549,1202 1551.5,1202 1554,1202 1556.5,1202 1559,1202 1561.5,1202 1564,1202 1566.5,1202 1569,1202 1571.5,1202 1574,1202 1576.5,1202 1579,1202 1581.5,1202 1584,1202 1586.5,1202 1589,1202 1591.5,1202 1594,1202 1596.5,1202 1599,1202 1601.5,1202 1604,1202 1606.5,1202 1609,1202 1611.5,1202 1614,1202 1616.5,1202 1619,1202 1621.5,1202 1624,1202 1626.5,1202 1629,1202 1631.5,1202 1634,1202 1636.5,1202 1639,1202 1641.5,1202 1644,1202 1646.5,1202 1649,1202 1651.5,1202 1654,1202 1656.5,1202 1659,1202 1661.5,1202 1664,1202 1666.5,1202 1669,1202 1671.5,1202 1674,1202 1676.5,1202 1679,1202 1681.5,1202 1684,1202 1686.5,1202 1689,1202 1691.5,1202 1694,1202 1696.5,1202 1699,1202 1701.5,1202 1704,1202 1706.5,1202 1709,1202 1711.5,1202 1714,1202" stroke="#a83a3e" stroke-width="2.8"/>
<polyline points="704,1201.5 706.5,1201.4 709,1201.3 711.5,1201.2 714,1201.1 716.5,1201 719,1200.8 721.5,1200.7 724,1200.5 726.5,1200.4 729,1200.2 731.5,1200.1 734,1199.9 736.5,1199.8 739,1199.7 741.5,1199.5 744,1199.4 746.5,1199.3 749,1199.2 751.5,1199.1 754,1199.1 756.5,1199 759,1199 761.5,1199 764,1199 766.5,1199.1 769,1199.1 771.5,1199.2 774,1199.3 776.5,1199.4 779,1199.5 781.5,1199.7 784,1199.8 786.5,1200 789,1200.1 791.5,1200.3 794,1200.4 796.5,1200.6 799,1200.7 801.5,1200.8 804,1201 806.5,1201.1 809,1201.2 811.5,1201.3 814,1201.4 816.5,1201.5" stroke="#9a5ad8" stroke-width="2.1"/>
<polyline points="464,1201.5 466.5,1201.5 469,1201.4 471.5,1201.4 474,1201.3 476.5,1201.3 479,1201.3 481.5,1201.2 484,1201.2 486.5,1201.1 489,1201.1 491.5,1201 494,1201 496.5,1200.9 499,1200.8 501.5,1200.8 504,1200.7 506.5,1200.6 509,1200.6 511.5,1200.5 514,1200.4 516.5,1200.3 519,1200.2 521.5,1200.2 524,1200.1 526.5,1200 529,1199.9 531.5,1199.8 534,1199.7 536.5,1199.6 539,1199.4 541.5,1199.3 544,1199.2 546.5,1199.1 549,1199 551.5,1198.8 554,1198.7 556.5,1198.6 559,1198.4 561.5,1198.3 564,1198.2 566.5,1198 569,1197.9 571.5,1197.7 574,1197.6 576.5,1197.4 579,1197.2 581.5,1197.1 584,1196.9 586.5,1196.7 589,1196.6 591.5,1196.4 594,1196.2 596.5,1196.1 599,1195.9 601.5,1195.7 604,1195.5 606.5,1195.3 609,1195.2 611.5,1195 614,1194.8 616.5,1194.6 619,1194.4 621.5,1194.2 624,1194.1 626.5,1193.9 629,1193.7 631.5,1193.5 634,1193.4 636.5,1193.2 639,1193 641.5,1192.8 644,1192.7 646.5,1192.5 649,1192.3 651.5,1192.2 654,1192 656.5,1191.9 659,1191.7 661.5,1191.6 664,1191.5 666.5,1191.3 669,1191.2 671.5,1191.1 674,1191 676.5,1190.9 679,1190.8 681.5,1190.7 684,1190.6 686.5,1190.5 689,1190.4 691.5,1190.3 694,1190.3 696.5,1190.2 699,1190.2 701.5,1190.1 704,1190.1 706.5,1190 709,1190 711.5,1190 714,1190 716.5,1190 719,1190 721.5,1190.1 724,1190.2 726.5,1190.4 729,1190.6 731.5,1190.8 734,1191 736.5,1191.3 739,1191.6 741.5,1191.9 744,1192.3 746.5,1192.6 749,1193 751.5,1193.4 754,1193.8 756.5,1194.2 759,1194.6 761.5,1195 764,1195.4 766.5,1195.8 769,1196.2 771.5,1196.5 774,1196.9 776.5,1197.3 779,1197.6 781.5,1198 784,1198.3 786.5,1198.6 789,1198.9 791.5,1199.2 794,1199.4 796.5,1199.7 799,1199.9 801.5,1200.1 804,1200.3 806.5,1200.5 809,1200.6 811.5,1200.8 814,1200.9 816.5,1201.1 819,1201.2 821.5,1201.3 824,1201.4 826.5,1201.4" stroke="#2f8f2f" stroke-width="2.1"/>
<polyline points="696.5,1201.4 699,1201.4 701.5,1201.3 704,1201.2 706.5,1201 709,1200.9 711.5,1200.8 714,1200.6 716.5,1200.4 719,1200.2 721.5,1200 724,1199.8 726.5,1199.6 729,1199.3 731.5,1199.1 734,1198.8 736.5,1198.5 739,1198.2 741.5,1197.9 744,1197.6 746.5,1197.3 749,1197 751.5,1196.7 754,1196.3 756.5,1196 759,1195.7 761.5,1195.4 764,1195.1 766.5,1194.8 769,1194.6 771.5,1194.4 774,1194.2 776.5,1194 779,1193.8 781.5,1193.7 784,1193.6 786.5,1193.5 789,1193.5 791.5,1193.5 794,1193.5 796.5,1193.6 799,1193.7 801.5,1193.8 804,1194 806.5,1194.2 809,1194.4 811.5,1194.6 814,1194.9 816.5,1195.2 819,1195.5 821.5,1195.8 824,1196.1 826.5,1196.4 829,1196.7 831.5,1197 834,1197.4 836.5,1197.7 839,1198 841.5,1198.3 844,1198.6 846.5,1198.9 849,1199.1 851.5,1199.4 854,1199.6 856.5,1199.9 859,1200.1 861.5,1200.3 864,1200.5 866.5,1200.6 869,1200.8 871.5,1200.9 874,1201.1 876.5,1201.2 879,1201.3 881.5,1201.4 884,1201.5" stroke="#30e0ea" stroke-width="2.1"/>
<polyline points="734,1201.5 736.5,1201.4 739,1201.4 741.5,1201.3 744,1201.2 746.5,1201.1 749,1201 751.5,1200.9 754,1200.8 756.5,1200.7 759,1200.5 761.5,1200.4 764,1200.2 766.5,1200.1 769,1199.9 771.5,1199.7 774,1199.5 776.5,1199.3 779,1199.1 781.5,1198.8 784,1198.6 786.5,1198.3 789,1198 791.5,1197.7 794,1197.4 796.5,1197.1 799,1196.7 801.5,1196.4 804,1196 806.5,1195.6 809,1195.2 811.5,1194.8 814,1194.4 816.5,1193.9 819,1193.5 821.5,1193 824,1192.6 826.5,1192.1 829,1191.6 831.5,1191.1 834,1190.7 836.5,1190.2 839,1189.7 841.5,1189.2 844,1188.8 846.5,1188.3 849,1187.8 851.5,1187.4 854,1187 856.5,1186.5 859,1186.1 861.5,1185.7 864,1185.4 866.5,1185 869,1184.7 871.5,1184.4 874,1184.1 876.5,1183.9 879,1183.7 881.5,1183.5 884,1183.3 886.5,1183.2 889,1183.1 891.5,1183 894,1183 896.5,1183 899,1183.1 901.5,1183.2 904,1183.3 906.5,1183.5 909,1183.7 911.5,1184 914,1184.3 916.5,1184.7 919,1185.1 921.5,1185.5 924,1185.9 926.5,1186.4 929,1186.9 931.5,1187.4 934,1188 936.5,1188.5 939,1189.1 941.5,1189.7 944,1190.2 946.5,1190.8 949,1191.4 951.5,1192 954,1192.5 956.5,1193.1 959,1193.6 961.5,1194.2 964,1194.7 966.5,1195.2 969,1195.6 971.5,1196.1 974,1196.5 976.5,1197 979,1197.4 981.5,1197.7 984,1198.1 986.5,1198.4 989,1198.8 991.5,1199 994,1199.3 996.5,1199.6 999,1199.8 1001.5,1200 1004,1200.2 1006.5,1200.4 1009,1200.6 1011.5,1200.7 1014,1200.9 1016.5,1201 1019,1201.1 1021.5,1201.2 1024,1201.3 1026.5,1201.4 1029,1201.5" stroke="#1c1cee" stroke-width="2.1"/>
<polyline points="874,1201.4 876.5,1201.4 879,1201.3 881.5,1201.1 884,1201 886.5,1200.9 889,1200.7 891.5,1200.5 894,1200.3 896.5,1200.1 899,1199.8 901.5,1199.5 904,1199.2 906.5,1198.9 909,1198.5 911.5,1198.1 914,1197.7 916.5,1197.2 919,1196.7 921.5,1196.1 924,1195.5 926.5,1194.9 929,1194.2 931.5,1193.5 934,1192.8 936.5,1192 939,1191.2 941.5,1190.3 944,1189.4 946.5,1188.4 949,1187.5 951.5,1186.5 954,1185.5 956.5,1184.5 959,1183.4 961.5,1182.4 964,1181.3 966.5,1180.3 969,1179.2 971.5,1178.2 974,1177.2 976.5,1176.2 979,1175.3 981.5,1174.4 984,1173.6 986.5,1172.8 989,1172.1 991.5,1171.4 994,1170.8 996.5,1170.3 999,1169.9 1001.5,1169.5 1004,1169.3 1006.5,1169.1 1009,1169 1011.5,1169 1014,1169.1 1016.5,1169.3 1019,1169.6 1021.5,1169.9 1024,1170.4 1026.5,1170.9 1029,1171.5 1031.5,1172.2 1034,1172.9 1036.5,1173.7 1039,1174.6 1041.5,1175.5 1044,1176.4 1046.5,1177.4 1049,1178.4 1051.5,1179.4 1054,1180.5 1056.5,1181.5 1059,1182.6 1061.5,1183.6 1064,1184.7 1066.5,1185.7 1069,1186.7 1071.5,1187.7 1074,1188.6 1076.5,1189.6 1079,1190.5 1081.5,1191.3 1084,1192.1 1086.5,1192.9 1089,1193.7 1091.5,1194.4 1094,1195 1096.5,1195.7 1099,1196.3 1101.5,1196.8 1104,1197.3 1106.5,1197.8 1109,1198.2 1111.5,1198.6 1114,1199 1116.5,1199.3 1119,1199.6 1121.5,1199.9 1124,1200.1 1126.5,1200.3 1129,1200.6 1131.5,1200.7 1134,1200.9 1136.5,1201 1139,1201.2 1141.5,1201.3 1144,1201.4 1146.5,1201.5" stroke="#22f022" stroke-width="2.1"/>
<polyline points="884,1201.5 886.5,1201.4 889,1201.4 891.5,1201.3 894,1201.2 896.5,1201.2 899,1201.1 901.5,1201 904,1201 906.5,1200.9 909,1200.8 911.5,1200.7 914,1200.6 916.5,1200.5 919,1200.4 921.5,1200.2 924,1200.1 926.5,1200 929,1199.8 931.5,1199.6 934,1199.5 936.5,1199.3 939,1199.1 941.5,1198.9 944,1198.7 946.5,1198.4 949,1198.2 951.5,1197.9 954,1197.6 956.5,1197.3 959,1197 961.5,1196.7 964,1196.4 966.5,1196 969,1195.6 971.5,1195.2 974,1194.8 976.5,1194.3 979,1193.9 981.5,1193.4 984,1192.9 986.5,1192.4 989,1191.8 991.5,1191.2 994,1190.6 996.5,1190 999,1189.3 1001.5,1188.6 1004,1187.9 1006.5,1187.1 1009,1186.4 1011.5,1185.6 1014,1184.7 1016.5,1183.9 1019,1183 1021.5,1182 1024,1181.1 1026.5,1180.1 1029,1179.1 1031.5,1178 1034,1176.9 1036.5,1175.8 1039,1174.6 1041.5,1173.4 1044,1172.2 1046.5,1171 1049,1169.7 1051.5,1168.4 1054,1167.1 1056.5,1165.7 1059,1164.3 1061.5,1162.9 1064,1161.4 1066.5,1160 1069,1158.4 1071.5,1156.9 1074,1155.4 1076.5,1153.8 1079,1152.2 1081.5,1150.6 1084,1149 1086.5,1147.4 1089,1145.7 1091.5,1144 1094,1142.4 1096.5,1140.7 1099,1139 1101.5,1137.3 1104,1135.6 1106.5,1133.9 1109,1132.3 1111.5,1130.6 1114,1128.9 1116.5,1127.2 1119,1125.6 1121.5,1124 1124,1122.3 1126.5,1120.8 1129,1119.2 1131.5,1117.6 1134,1116.1 1136.5,1114.6 1139,1113.2 1141.5,1111.8 1144,1110.4 1146.5,1109 1149,1107.7 1151.5,1106.5 1154,1105.3 1156.5,1104.1 1159,1103 1161.5,1102 1164,1101 1166.5,1100.1 1169,1099.2 1171.5,1098.4 1174,1097.6 1176.5,1096.9 1179,1096.3 1181.5,1095.7 1184,1095.3 1186.5,1094.8 1189,1094.5 1191.5,1094.2 1194,1094 1196.5,1093.9 1199,1093.8 1201.5,1093.8 1204,1093.9 1206.5,1094.1 1209,1094.4 1211.5,1094.8 1214,1095.3 1216.5,1095.9 1219,1096.6 1221.5,1097.4 1224,1098.2 1226.5,1099.2 1229,1100.2 1231.5,1101.3 1234,1102.5 1236.5,1103.7 1239,1105.1 1241.5,1106.4 1244,1107.9 1246.5,1109.4 1249,1111 1251.5,1112.6 1254,1114.2 1256.5,1115.9 1259,1117.7 1261.5,1119.5 1264,1121.3 1266.5,1123.1 1269,1125 1271.5,1126.8 1274,1128.7 1276.5,1130.6 1279,1132.5 1281.5,1134.4 1284,1136.4 1286.5,1138.3 1289,1140.2 1291.5,1142.1 1294,1144 1296.5,1145.9 1299,1147.7 1301.5,1149.5 1304,1151.4 1306.5,1153.2 1309,1154.9 1311.5,1156.7 1314,1158.4 1316.5,1160.1 1319,1161.7 1321.5,1163.3 1324,1164.9 1326.5,1166.4 1329,1167.9 1331.5,1169.4 1334,1170.8 1336.5,1172.2 1339,1173.5 1341.5,1174.8 1344,1176.1 1346.5,1177.3 1349,1178.5 1351.5,1179.6 1354,1180.7 1356.5,1181.7 1359,1182.8 1361.5,1183.7 1364,1184.7 1366.5,1185.6 1369,1186.4 1371.5,1187.3 1374,1188 1376.5,1188.8 1379,1189.5 1381.5,1190.2 1384,1190.9 1386.5,1191.5 1389,1192.1 1391.5,1192.6 1394,1193.2 1396.5,1193.7 1399,1194.1 1401.5,1194.6 1404,1195 1406.5,1195.4 1409,1195.8 1411.5,1196.2 1414,1196.5 1416.5,1196.8 1419,1197.1 1421.5,1197.4 1424,1197.7 1426.5,1197.9 1429,1198.1 1431.5,1198.4 1434,1198.6 1436.5,1198.8 1439,1198.9 1441.5,1199.1 1444,1199.3 1446.5,1199.4 1449,1199.5 1451.5,1199.7 1454,1199.8 1456.5,1199.9 1459,1200 1461.5,1200.1 1464,1200.2 1466.5,1200.3 1469,1200.4 1471.5,1200.4 1474,1200.5 1476.5,1200.6 1479,1200.6 1481.5,1200.7 1484,1200.7 1486.5,1200.8 1489,1200.8 1491.5,1200.8 1494,1200.9 1496.5,1200.9 1499,1201 1501.5,1201 1504,1201 1506.5,1201 1509,1201.1 1511.5,1201.1 1514,1201.1 1516.5,1201.1 1519,1201.2 1521.5,1201.2 1524,1201.2 1526.5,1201.2 1529,1201.2 1531.5,1201.2 1534,1201.3 1536.5,1201.3 1539,1201.3 1541.5,1201.3 1544,1201.3 1546.5,1201.3 1549,1201.3 1551.5,1201.3 1554,1201.4 1556.5,1201.4 1559,1201.4 1561.5,1201.4 1564,1201.4 1566.5,1201.4 1569,1201.4 1571.5,1201.4 1574,1201.4 1576.5,1201.4 1579,1201.4 1581.5,1201.4 1584,1201.5 1586.5,1201.5 1589,1201.5 1591.5,1201.5 1594,1201.5 1596.5,1201.5 1599,1201.5" stroke="#ff2c2c" stroke-width="2.1"/>
<polyline points="199,1202.1 201.5,1201.2 204,1201.6 206.5,1202.1 209,1202.6 211.5,1202 214,1200.5 216.5,1200.7 219,1202.3 221.5,1202.7 224,1203.8 226.5,1205.6 229,1204.7 231.5,1202.9 234,1203.5 236.5,1204.1 239,1202.2 241.5,1200.2 244,1201.1 246.5,1203.3 249,1203.4 251.5,1202 254,1202.6 256.5,1203.2 259,1202.8 261.5,1202.3 264,1202.7 266.5,1203.4 269,1203.3 271.5,1203.2 274,1202.3 276.5,1201.4 279,1201.2 281.5,1201.2 284,1202.4 286.5,1202.8 289,1200.5 291.5,1199.5 294,1202 296.5,1204.5 299,1204.9 301.5,1204.8 304,1203.8 306.5,1202 309,1200.2 311.5,1198.7 314,1200.2 316.5,1201.5 319,1199.4 321.5,1198.1 324,1199.5 326.5,1202.2 329,1205 331.5,1206.5 334,1204.3 336.5,1199.8 339,1198.6 341.5,1201.5 344,1202.4 346.5,1200.5 349,1200.3 351.5,1201.3 354,1201.8 356.5,1202.2 359,1203.2 361.5,1203.6 364,1203.2 366.5,1204.1 369,1204.2 371.5,1201.5 374,1200.6 376.5,1203.1 379,1204.6 381.5,1204 384,1203.3 386.5,1202.9 389,1202.6 391.5,1202.3 394,1202.7 396.5,1203.2 399,1203.5 401.5,1204.5 404,1203.7 406.5,1202.5 409,1201.8 411.5,1201.2 414,1203.8 416.5,1206.1 419,1204.5 421.5,1203 424,1202.9 426.5,1202.8 429,1202.4 431.5,1202.4 434,1201.9 436.5,1201.4 439,1201.9 441.5,1201 444,1201.1 446.5,1203.4 449,1202.3 451.5,1200.7 454,1202.1 456.5,1202.6 459,1202.4 461.5,1202.2 464,1199.5 466.5,1197.8 469,1200.1 471.5,1202.5 474,1202.5 476.5,1201.1 479,1201 481.5,1201.6 484,1201.2 486.5,1201.1 489,1200.9 491.5,1201.2 494,1202 496.5,1201.1 499,1200.4 501.5,1200.3 504,1200.3 506.5,1201.7 509,1203.1 511.5,1203.3 514,1201.9 516.5,1200.9 519,1200.4 521.5,1199.3 524,1199.9 526.5,1201.2 529,1200.4 531.5,1198.2 534,1198.5 536.5,1200.6 539,1199.1 541.5,1196.7 544,1197.1 546.5,1199.3 549,1200.6 551.5,1200.4 554,1200.4 556.5,1200 559,1199.9 561.5,1199.7 564,1198.7 566.5,1198.1 569,1197.4 571.5,1197.4 574,1197.7 576.5,1197.1 579,1196.6 581.5,1196.4 584,1196.3 586.5,1196.9 589,1197.8 591.5,1197.3 594,1197.5 596.5,1196.5 599,1193 601.5,1191.4 604,1191.9 606.5,1194.2 609,1196.2 611.5,1196.2 614,1195.1 616.5,1194.9 619,1196.2 621.5,1195.6 624,1193.4 626.5,1192.8 629,1193.4 631.5,1193 634,1192.8 636.5,1193.4 639,1193 641.5,1192.8 644,1193.1 646.5,1191.5 649,1190.7 651.5,1192 654,1192.4 656.5,1191.8 659,1191.3 661.5,1191.1 664,1189.9 666.5,1189.5 669,1190.4 671.5,1190.1 674,1190.4 676.5,1191.4 679,1192.5 681.5,1192.7 684,1189.7 686.5,1188.4 689,1190.3 691.5,1191.1 694,1189.2 696.5,1188.2 699,1189 701.5,1188.3 704,1188.4 706.5,1188.9 709,1187.6 711.5,1187.2 714,1187.7 716.5,1187.4 719,1186.5 721.5,1185.6 724,1185 726.5,1183.8 729,1184.4 731.5,1186.9 734,1187.3 736.5,1185.8 739,1184.2 741.5,1183.9 744,1183.4 746.5,1182.9 749,1183.6 751.5,1183.4 754,1182.4 756.5,1182.6 759,1184.5 761.5,1185.4 764,1184.1 766.5,1182.7 769,1183.4 771.5,1184.8 774,1184.4 776.5,1184.2 779,1183.7 781.5,1183.8 784,1184.2 786.5,1183.1 789,1183.6 791.5,1183.8 794,1183.1 796.5,1184.7 799,1185.8 801.5,1185 804,1184.6 806.5,1186 809,1187.1 811.5,1187.4 814,1188.1 816.5,1188 819,1187.8 821.5,1187.3 824,1185.4 826.5,1184.9 829,1186.1 831.5,1187.2 834,1188.1 836.5,1187.6 839,1186.2 841.5,1185.2 844,1184.5 846.5,1183.9 849,1184.3 851.5,1184.9 854,1183.9 856.5,1183.4 859,1183.4 861.5,1182.9 864,1181.5 866.5,1180.6 869,1181.8 871.5,1182.5 874,1182.5 876.5,1181.5 879,1181.3 881.5,1183.3 884,1183 886.5,1180.4 889,1179.3 891.5,1180.6 894,1181.1 896.5,1180.2 899,1180.8 901.5,1181.2 904,1179.4 906.5,1179 909,1180.4 911.5,1180 914,1180.1 916.5,1181.2 919,1179.8 921.5,1178.2 924,1177.9 926.5,1177.4 929,1177.4 931.5,1176.8 934,1175.7 936.5,1175.6 939,1176.1 941.5,1176.1 944,1175.9 946.5,1175.4 949,1174.4 951.5,1173.2 954,1171.7 956.5,1171.3 959,1170.3 961.5,1168.1 964,1169.7 966.5,1170.5 969,1167.3 971.5,1165.4 974,1163.9 976.5,1164.1 979,1165.7 981.5,1163.9 984,1159.8 986.5,1156.9 989,1156.8 991.5,1157.6 994,1156.9 996.5,1155.9 999,1155.7 1001.5,1155.2 1004,1154.4 1006.5,1152.3 1009,1151.2 1011.5,1150.6 1014,1149.2 1016.5,1149.8 1019,1149.7 1021.5,1148.4 1024,1148 1026.5,1147.8 1029,1147.8 1031.5,1146.9 1034,1146.6 1036.5,1147.3 1039,1147.6 1041.5,1147.9 1044,1146.7 1046.5,1145.6 1049,1146.6 1051.5,1146.5 1054,1144.8 1056.5,1145.2 1059,1145.8 1061.5,1143.7 1064,1142.7 1066.5,1142.7 1069,1140.5 1071.5,1138.2 1074,1139 1076.5,1141.3 1079,1142 1081.5,1141.3 1084,1139.3 1086.5,1137.6 1089,1138.2 1091.5,1137.8 1094,1135.9 1096.5,1134.9 1099,1133.6 1101.5,1132.4 1104,1130.7 1106.5,1129.2 1109,1128.9 1111.5,1127.1 1114,1125.1 1116.5,1124.3 1119,1123.8 1121.5,1122.7 1124,1121.6 1126.5,1121 1129,1118.7 1131.5,1114.5 1134,1111.4 1136.5,1111.6 1139,1111.4 1141.5,1109.5 1144,1108.7 1146.5,1109.4 1149,1110 1151.5,1109.6 1154,1107 1156.5,1103.9 1159,1102 1161.5,1100.9 1164,1101.2 1166.5,1100.5 1169,1098.6 1171.5,1097.7 1174,1096.9 1176.5,1096.8 1179,1099.2 1181.5,1100.5 1184,1098.6 1186.5,1096.7 1189,1095.1 1191.5,1095.2 1194,1096.2 1196.5,1095 1199,1094.1 1201.5,1094.3 1204,1094.6 1206.5,1094.8 1209,1094.5 1211.5,1093.8 1214,1095.4 1216.5,1096.9 1219,1095.9 1221.5,1096.9 1224,1099.7 1226.5,1101.1 1229,1100.5 1231.5,1099.5 1234,1100.7 1236.5,1101.7 1239,1103.1 1241.5,1106.9 1244,1108.7 1246.5,1107.8 1249,1108.6 1251.5,1111.3 1254,1113.1 1256.5,1115.7 1259,1119.9 1261.5,1121.3 1264,1121 1266.5,1123.7 1269,1128.7 1271.5,1130.5 1274,1129.7 1276.5,1131.5 1279,1133.6 1281.5,1133.6 1284,1135.9 1286.5,1139.2 1289,1140 1291.5,1140.5 1294,1141.8 1296.5,1144.7 1299,1147.7 1301.5,1148.3 1304,1149.1 1306.5,1152.8 1309,1156.7 1311.5,1157.6 1314,1158 1316.5,1160.2 1319,1162.4 1321.5,1162.7 1324,1163.1 1326.5,1165.6 1329,1168.4 1331.5,1169.5 1334,1170.4 1336.5,1172.3 1339,1172.6 1341.5,1173.4 1344,1176.3 1346.5,1177.7 1349,1178.5 1351.5,1180.3 1354,1182.5 1356.5,1184.3 1359,1185.1 1361.5,1184.3 1364,1182.3 1366.5,1182.8 1369,1185.2 1371.5,1186.6 1374,1188.1 1376.5,1188.4 1379,1187.4 1381.5,1187.6 1384,1188.4 1386.5,1189.7 1389,1191.7 1391.5,1194.1 1394,1194.5 1396.5,1193 1399,1193.8 1401.5,1196.6 1404,1197.1 1406.5,1194.9 1409,1192.7 1411.5,1193.7 1414,1195.8 1416.5,1197.4 1419,1199.1 1421.5,1198.8 1424,1197.4 1426.5,1196.2 1429,1195.9 1431.5,1196.6 1434,1197.3 1436.5,1198.3 1439,1199.4 1441.5,1200.2 1444,1199.8 1446.5,1198.5 1449,1199.1 1451.5,1201 1454,1201.6 1456.5,1200.7 1459,1199.8 1461.5,1199.6 1464,1200.4 1466.5,1200.6 1469,1199.6 1471.5,1199.5 1474,1200.5 1476.5,1200.5 1479,1200.1 1481.5,1200.8 1484,1201.9 1486.5,1203.6 1489,1203.3 1491.5,1200.9 1494,1201.3 1496.5,1203.7 1499,1203.4 1501.5,1201.8 1504,1200.8 1506.5,1201.1 1509,1202.3 1511.5,1201.8 1514,1201.2 1516.5,1202.3 1519,1201.7 1521.5,1200.8 1524,1201.7 1526.5,1202 1529,1201.7 1531.5,1201.3 1534,1200.4 1536.5,1199.8 1539,1199.9 1541.5,1199.9 1544,1199.2 1546.5,1198.5 1549,1200.2 1551.5,1202.4 1554,1203 1556.5,1202.4 1559,1201.7 1561.5,1203.5 1564,1203.4 1566.5,1200.5 1569,1199.5 1571.5,1200.3 1574,1201.2 1576.5,1200.2 1579,1199 1581.5,1200.6 1584,1200.9 1586.5,1200.7 1589,1201.8 1591.5,1202.3 1594,1202.9 1596.5,1202.6 1599,1202.1 1601.5,1203.1 1604,1202.8 1606.5,1200.5 1609,1199.1 1611.5,1200.3 1614,1201.8 1616.5,1202.6 1619,1203.6 1621.5,1203 1624,1202.1 1626.5,1201.6 1629,1200.7 1631.5,1200.5 1634,1199.4 1636.5,1197.5 1639,1198.6 1641.5,1201.1 1644,1201.4 1646.5,1200.3 1649,1199.5 1651.5,1200.5 1654,1202.2 1656.5,1201.9 1659,1201.9 1661.5,1203 1664,1202.2 1666.5,1201.8 1669,1201.7 1671.5,1200.6 1674,1200.6 1676.5,1200.2 1679,1199.7 1681.5,1200.5 1684,1201.5 1686.5,1202 1689,1202.2 1691.5,1202.9 1694,1204.3 1696.5,1204.8 1699,1203.9 1701.5,1202.7 1704,1201 1706.5,1200.5 1709,1201.7 1711.5,1202.5 1714,1201.6" stroke="#2a2a2a" stroke-width="2.1"/>
<polyline points="199,1202 201.5,1202 204,1202 206.5,1202 209,1202 211.5,1202 214,1202 216.5,1202 219,1202 221.5,1202 224,1202 226.5,1202 229,1202 231.5,1202 234,1202 236.5,1202 239,1202 241.5,1202 244,1202 246.5,1202 249,1202 251.5,1202 254,1202 256.5,1202 259,1202 261.5,1202 264,1202 266.5,1202 269,1202 271.5,1202 274,1202 276.5,1202 279,1202 281.5,1202 284,1202 286.5,1202 289,1202 291.5,1202 294,1202 296.5,1202 299,1202 301.5,1202 304,1202 306.5,1202 309,1202 311.5,1202 314,1202 316.5,1202 319,1202 321.5,1202 324,1202 326.5,1202 329,1202 331.5,1202 334,1202 336.5,1202 339,1202 341.5,1202 344,1202 346.5,1202 349,1202 351.5,1202 354,1202 356.5,1202 359,1202 361.5,1202 364,1202 366.5,1202 369,1202 371.5,1202 374,1202 376.5,1202 379,1202 381.5,1202 384,1201.9 386.5,1201.9 389,1201.9 391.5,1201.9 394,1201.9 396.5,1201.9 399,1201.9 401.5,1201.9 404,1201.9 406.5,1201.9 409,1201.9 411.5,1201.9 414,1201.9 416.5,1201.9 419,1201.8 421.5,1201.8 424,1201.8 426.5,1201.8 429,1201.8 431.5,1201.8 434,1201.8 436.5,1201.8 439,1201.7 441.5,1201.7 444,1201.7 446.5,1201.7 449,1201.7 451.5,1201.6 454,1201.6 456.5,1201.6 459,1201.5 461.5,1201.5 464,1201.5 466.5,1201.5 469,1201.4 471.5,1201.4 474,1201.3 476.5,1201.3 479,1201.3 481.5,1201.2 484,1201.2 486.5,1201.1 489,1201.1 491.5,1201 494,1201 496.5,1200.9 499,1200.8 501.5,1200.8 504,1200.7 506.5,1200.6 509,1200.6 511.5,1200.5 514,1200.4 516.5,1200.3 519,1200.2 521.5,1200.2 524,1200.1 526.5,1200 529,1199.9 531.5,1199.8 534,1199.7 536.5,1199.6 539,1199.4 541.5,1199.3 544,1199.2 546.5,1199.1 549,1199 551.5,1198.8 554,1198.7 556.5,1198.6 559,1198.4 561.5,1198.3 564,1198.2 566.5,1198 569,1197.9 571.5,1197.7 574,1197.6 576.5,1197.4 579,1197.2 581.5,1197.1 584,1196.9 586.5,1196.7 589,1196.6 591.5,1196.4 594,1196.2 596.5,1196.1 599,1195.9 601.5,1195.7 604,1195.5 606.5,1195.3 609,1195.2 611.5,1195 614,1194.8 616.5,1194.6 619,1194.4 621.5,1194.2 624,1194.1 626.5,1193.9 629,1193.7 631.5,1193.5 634,1193.3 636.5,1193.2 639,1193 641.5,1192.8 644,1192.7 646.5,1192.5 649,1192.3 651.5,1192.2 654,1192 656.5,1191.8 659,1191.7 661.5,1191.5 664,1191.4 666.5,1191.2 669,1191.1 671.5,1190.9 674,1190.8 676.5,1190.6 679,1190.5 681.5,1190.3 684,1190.1 686.5,1190 689,1189.8 691.5,1189.6 694,1189.4 696.5,1189.3 699,1189 701.5,1188.8 704,1188.6 706.5,1188.3 709,1188.1 711.5,1187.8 714,1187.5 716.5,1187.2 719,1186.9 721.5,1186.6 724,1186.3 726.5,1186 729,1185.7 731.5,1185.5 734,1185.3 736.5,1185 739,1184.8 741.5,1184.6 744,1184.5 746.5,1184.3 749,1184.2 751.5,1184 754,1183.9 756.5,1183.9 759,1183.8 761.5,1183.8 764,1183.8 766.5,1183.8 769,1183.8 771.5,1183.8 774,1183.9 776.5,1184 779,1184.1 781.5,1184.2 784,1184.3 786.5,1184.4 789,1184.5 791.5,1184.6 794,1184.8 796.5,1184.9 799,1185 801.5,1185.1 804,1185.2 806.5,1185.3 809,1185.4 811.5,1185.5 814,1185.6 816.5,1185.6 819,1185.6 821.5,1185.6 824,1185.6 826.5,1185.6 829,1185.5 831.5,1185.5 834,1185.4 836.5,1185.3 839,1185.2 841.5,1185 844,1184.9 846.5,1184.7 849,1184.5 851.5,1184.3 854,1184.1 856.5,1183.9 859,1183.7 861.5,1183.4 864,1183.2 866.5,1183 869,1182.7 871.5,1182.5 874,1182.2 876.5,1182 879,1181.7 881.5,1181.5 884,1181.2 886.5,1181 889,1180.7 891.5,1180.5 894,1180.3 896.5,1180 899,1179.8 901.5,1179.6 904,1179.4 906.5,1179.1 909,1178.9 911.5,1178.7 914,1178.5 916.5,1178.3 919,1178.1 921.5,1177.8 924,1177.6 926.5,1177.3 929,1176.9 931.5,1176.6 934,1176.2 936.5,1175.8 939,1175.3 941.5,1174.8 944,1174.3 946.5,1173.7 949,1173 951.5,1172.4 954,1171.6 956.5,1170.9 959,1170.1 961.5,1169.2 964,1168.3 966.5,1167.4 969,1166.5 971.5,1165.5 974,1164.5 976.5,1163.6 979,1162.6 981.5,1161.6 984,1160.6 986.5,1159.6 989,1158.6 991.5,1157.7 994,1156.7 996.5,1155.8 999,1155 1001.5,1154.2 1004,1153.4 1006.5,1152.7 1009,1152 1011.5,1151.3 1014,1150.7 1016.5,1150.2 1019,1149.7 1021.5,1149.2 1024,1148.8 1026.5,1148.4 1029,1148.1 1031.5,1147.7 1034,1147.4 1036.5,1147.2 1039,1146.9 1041.5,1146.7 1044,1146.4 1046.5,1146.2 1049,1146 1051.5,1145.7 1054,1145.4 1056.5,1145.1 1059,1144.8 1061.5,1144.4 1064,1144 1066.5,1143.6 1069,1143.1 1071.5,1142.6 1074,1142 1076.5,1141.3 1079,1140.7 1081.5,1139.9 1084,1139.1 1086.5,1138.3 1089,1137.4 1091.5,1136.4 1094,1135.4 1096.5,1134.4 1099,1133.3 1101.5,1132.1 1104,1130.9 1106.5,1129.7 1109,1128.5 1111.5,1127.2 1114,1125.9 1116.5,1124.5 1119,1123.2 1121.5,1121.8 1124,1120.5 1126.5,1119.1 1129,1117.7 1131.5,1116.4 1134,1115 1136.5,1113.7 1139,1112.3 1141.5,1111 1144,1109.8 1146.5,1108.5 1149,1107.3 1151.5,1106.1 1154,1104.9 1156.5,1103.8 1159,1102.8 1161.5,1101.8 1164,1100.8 1166.5,1099.9 1169,1099.1 1171.5,1098.3 1174,1097.5 1176.5,1096.9 1179,1096.2 1181.5,1095.7 1184,1095.2 1186.5,1094.8 1189,1094.5 1191.5,1094.2 1194,1094 1196.5,1093.9 1199,1093.8 1201.5,1093.8 1204,1093.9 1206.5,1094.1 1209,1094.4 1211.5,1094.8 1214,1095.3 1216.5,1095.9 1219,1096.6 1221.5,1097.4 1224,1098.2 1226.5,1099.2 1229,1100.2 1231.5,1101.3 1234,1102.5 1236.5,1103.7 1239,1105.1 1241.5,1106.4 1244,1107.9 1246.5,1109.4 1249,1111 1251.5,1112.6 1254,1114.2 1256.5,1115.9 1259,1117.7 1261.5,1119.5 1264,1121.3 1266.5,1123.1 1269,1125 1271.5,1126.8 1274,1128.7 1276.5,1130.6 1279,1132.5 1281.5,1134.4 1284,1136.4 1286.5,1138.3 1289,1140.2 1291.5,1142.1 1294,1144 1296.5,1145.9 1299,1147.7 1301.5,1149.5 1304,1151.4 1306.5,1153.2 1309,1154.9 1311.5,1156.7 1314,1158.4 1316.5,1160.1 1319,1161.7 1321.5,1163.3 1324,1164.9 1326.5,1166.4 1329,1167.9 1331.5,1169.4 1334,1170.8 1336.5,1172.2 1339,1173.5 1341.5,1174.8 1344,1176.1 1346.5,1177.3 1349,1178.5 1351.5,1179.6 1354,1180.7 1356.5,1181.7 1359,1182.8 1361.5,1183.7 1364,1184.7 1366.5,1185.6 1369,1186.4 1371.5,1187.3 1374,1188 1376.5,1188.8 1379,1189.5 1381.5,1190.2 1384,1190.9 1386.5,1191.5 1389,1192.1 1391.5,1192.6 1394,1193.2 1396.5,1193.7 1399,1194.1 1401.5,1194.6 1404,1195 1406.5,1195.4 1409,1195.8 1411.5,1196.2 1414,1196.5 1416.5,1196.8 1419,1197.1 1421.5,1197.4 1424,1197.7 1426.5,1197.9 1429,1198.1 1431.5,1198.4 1434,1198.6 1436.5,1198.8 1439,1198.9 1441.5,1199.1 1444,1199.3 1446.5,1199.4 1449,1199.5 1451.5,1199.7 1454,1199.8 1456.5,1199.9 1459,1200 1461.5,1200.1 1464,1200.2 1466.5,1200.3 1469,1200.4 1471.5,1200.4 1474,1200.5 1476.5,1200.6 1479,1200.6 1481.5,1200.7 1484,1200.7 1486.5,1200.8 1489,1200.8 1491.5,1200.8 1494,1200.9 1496.5,1200.9 1499,1201 1501.5,1201 1504,1201 1506.5,1201 1509,1201.1 1511.5,1201.1 1514,1201.1 1516.5,1201.1 1519,1201.2 1521.5,1201.2 1524,1201.2 1526.5,1201.2 1529,1201.2 1531.5,1201.2 1534,1201.3 1536.5,1201.3 1539,1201.3 1541.5,1201.3 1544,1201.3 1546.5,1201.3 1549,1201.3 1551.5,1201.3 1554,1201.4 1556.5,1201.4 1559,1201.4 1561.5,1201.4 1564,1201.4 1566.5,1201.4 1569,1201.4 1571.5,1201.4 1574,1201.4 1576.5,1201.4 1579,1201.4 1581.5,1201.4 1584,1201.5 1586.5,1201.5 1589,1201.5 1591.5,1201.5 1594,1201.5 1596.5,1201.5 1599,1201.5 1601.5,1201.5 1604,1201.5 1606.5,1201.5 1609,1201.5 1611.5,1201.5 1614,1201.5 1616.5,1201.5 1619,1201.5 1621.5,1201.5 1624,1201.5 1626.5,1201.6 1629,1201.6 1631.5,1201.6 1634,1201.6 1636.5,1201.6 1639,1201.6 1641.5,1201.6 1644,1201.6 1646.5,1201.6 1649,1201.6 1651.5,1201.6 1654,1201.6 1656.5,1201.6 1659,1201.6 1661.5,1201.6 1664,1201.6 1666.5,1201.6 1669,1201.6 1671.5,1201.6 1674,1201.6 1676.5,1201.6 1679,1201.6 1681.5,1201.6 1684,1201.7 1686.5,1201.7 1689,1201.7 1691.5,1201.7 1694,1201.7 1696.5,1201.7 1699,1201.7 1701.5,1201.7 1704,1201.7 1706.5,1201.7 1709,1201.7 1711.5,1201.7 1714,1201.7" stroke="#2e962e" stroke-width="2.1"/>
</g>
<g stroke="#1e1e1e" stroke-width="6" fill="none">
<line x1="992.5" y1="199.5" x2="992.5" y2="1232" stroke-dasharray="17.6 10.5"/>
<line x1="1204.5" y1="205" x2="1204.5" y2="1237" stroke-dasharray="17.6 10.5"/>
<line x1="841" y1="202.5" x2="992.5" y2="294" stroke-width="4.5" stroke="#111"/>
<line x1="1317" y1="233" x2="1204.5" y2="296" stroke-width="4.5" stroke="#111"/>
</g>
<g shape-rendering="crispEdges">
<rect x="194" y="39" width="1525" height="3" fill="#444"/>
<rect x="197" y="42" width="1519" height="3" fill="#6a6a6a"/>
<rect x="194" y="1267" width="1525" height="3" fill="#262626"/>
<rect x="197" y="1270" width="1519" height="3" fill="#8c8c8c"/>
<rect x="194" y="39" width="3" height="1231" fill="#2e2e2e"/>
<rect x="197" y="42" width="3" height="1228" fill="#8a8a8a"/>
<rect x="1716" y="39" width="3" height="1231" fill="#1a1a1a"/>
<rect x="1713" y="42" width="3" height="1228" fill="#777"/>
<rect x="193" y="1270" width="4" height="23.5" fill="#444"/>
<rect x="1714" y="1270" width="5" height="23.5" fill="#222"/>
</g>
<line x1="196.5" y1="1270" x2="196.5" y2="1293.5" stroke="#383838" stroke-width="5"/>
<text x="195.2" y="1368.5" text-anchor="middle" font-family="'Liberation Serif', 'Times New Roman', serif" font-weight="bold" font-size="75" transform="translate(0,-47.90) scale(1,1.035)">294</text>
<line x1="413.6" y1="1270" x2="413.6" y2="1293.5" stroke="#383838" stroke-width="5"/>
<text x="412.1" y="1368.5" text-anchor="middle" font-family="'Liberation Serif', 'Times New Roman', serif" font-weight="bold" font-size="75" transform="translate(0,-47.90) scale(1,1.035)">292</text>
<line x1="630.6" y1="1270" x2="630.6" y2="1293.5" stroke="#383838" stroke-width="5"/>
<text x="630.1" y="1368.5" text-anchor="middle" font-family="'Liberation Serif', 'Times New Roman', serif" font-weight="bold" font-size="75" transform="translate(0,-47.90) scale(1,1.035)">290</text>
<line x1="847.7" y1="1270" x2="847.7" y2="1293.5" stroke="#383838" stroke-width="5"/>
<text x="847.2" y="1368.5" text-anchor="middle" font-family="'Liberation Serif', 'Times New Roman', serif" font-weight="bold" font-size="75" transform="translate(0,-47.90) scale(1,1.035)">288</text>
<line x1="1064.8" y1="1270" x2="1064.8" y2="1293.5" stroke="#383838" stroke-width="5"/>
<text x="1064.8" y="1368.5" text-anchor="middle" font-family="'Liberation Serif', 'Times New Roman', serif" font-weight="bold" font-size="75" transform="translate(0,-47.90) scale(1,1.035)">286</text>
<line x1="1281.8" y1="1270" x2="1281.8" y2="1293.5" stroke="#383838" stroke-width="5"/>
<text x="1281.8" y="1368.5" text-anchor="middle" font-family="'Liberation Serif', 'Times New Roman', serif" font-weight="bold" font-size="75" transform="translate(0,-47.90) scale(1,1.035)">284</text>
<line x1="1498.9" y1="1270" x2="1498.9" y2="1293.5" stroke="#383838" stroke-width="5"/>
<text x="1498.9" y="1368.5" text-anchor="middle" font-family="'Liberation Serif', 'Times New Roman', serif" font-weight="bold" font-size="75" transform="translate(0,-47.90) scale(1,1.035)">282</text>
<line x1="1716.0" y1="1270" x2="1716.0" y2="1293.5" stroke="#383838" stroke-width="5"/>
<text x="1716.3" y="1368.5" text-anchor="middle" font-family="'Liberation Serif', 'Times New Roman', serif" font-weight="bold" font-size="75" transform="translate(0,-47.90) scale(1,1.035)">280</text>

<text x="60" y="127.5" font-family="'Liberation Serif', 'Times New Roman', serif" font-weight="bold" font-size="94">B</text>
<text x="704.5" y="227.5" font-family="'Liberation Serif', 'Times New Roman', serif" font-weight="bold" font-size="71.4">C-O</text>
<text x="1328" y="255.5" font-family="'Liberation Serif', 'Times New Roman', serif" font-weight="bold" font-size="71.4">C-C</text>
<text x="229" y="380.6" font-family="'Liberation Serif', 'Times New Roman', serif" font-weight="bold" font-size="69.7" transform="translate(0,-10.66) scale(1,1.028)">AE-After reaction</text>
<text x="229" y="659.5" font-family="'Liberation Serif', 'Times New Roman', serif" font-weight="bold" font-size="69.7" transform="translate(0,-21.76) scale(1,1.033)">CP-After reaction</text>
<text x="310" y="930.6" font-family="'Liberation Serif', 'Times New Roman', serif" font-weight="bold" font-size="68.8" transform="translate(0,-32.57) scale(1,1.035)">AE-Reduced</text>
<text x="310" y="1147.5" font-family="'Liberation Serif', 'Times New Roman', serif" font-weight="bold" font-size="68.8" transform="translate(0,-40.16) scale(1,1.035)">CP-Reduced</text>
<text x="634" y="1492" font-family="'Liberation Serif', 'Times New Roman', serif" font-weight="bold" font-size="75.2" transform="translate(0,-59.68) scale(1,1.04)">Binding energy (eV)</text>
<text transform="translate(97,860.5) rotate(-90)" x="0" y="0" font-family="'Liberation Serif', 'Times New Roman', serif" font-weight="bold" font-size="75">Intensity (a.u.)</text>
</svg>
</body></html>
